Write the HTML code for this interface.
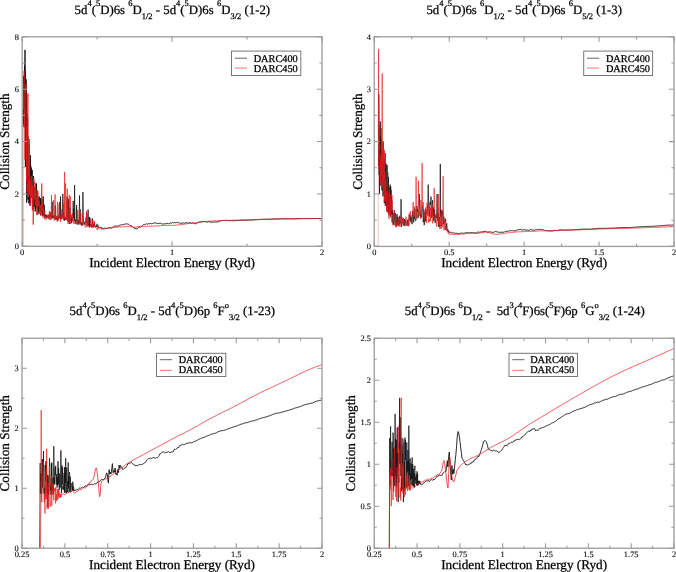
<!DOCTYPE html>
<html><head><meta charset="utf-8"><title>Collision strengths</title><style>
html,body{margin:0;padding:0;background:#fff;}
svg{display:block;will-change:transform;}
text{font-family:"Liberation Serif", serif;fill:#000;stroke:#000;stroke-width:0.25px;text-rendering:geometricPrecision;}
.tk{font-size:8.4px;stroke-width:0.1px;}
.al{font-size:13.2px;}
.lg{font-size:10.3px;}
.ti{font-size:12.8px;white-space:pre;}
.sm{font-size:8.5px;}
</style></head>
<body>
<svg width="676" height="572" viewBox="0 0 676 572">
<rect width="676" height="572" fill="#fff"/>
<text x="74.60" y="14.10" class="ti"><tspan y="14.10">5d</tspan><tspan y="6.30" class="sm">4</tspan><tspan y="14.10">(</tspan><tspan y="6.30" class="sm">5</tspan><tspan y="14.10">D)6s </tspan><tspan y="6.30" class="sm">6</tspan><tspan y="14.10">D</tspan><tspan y="19.10" class="sm">1/2</tspan><tspan y="14.10"> - 5d</tspan><tspan y="6.30" class="sm">4</tspan><tspan y="14.10">(</tspan><tspan y="6.30" class="sm">5</tspan><tspan y="14.10">D)6s </tspan><tspan y="6.30" class="sm">6</tspan><tspan y="14.10">D</tspan><tspan y="19.10" class="sm">3/2</tspan><tspan y="14.10"> (1-2)</tspan></text>
<text x="426.40" y="14.10" class="ti"><tspan y="14.10">5d</tspan><tspan y="6.30" class="sm">4</tspan><tspan y="14.10">(</tspan><tspan y="6.30" class="sm">5</tspan><tspan y="14.10">D)6s </tspan><tspan y="6.30" class="sm">6</tspan><tspan y="14.10">D</tspan><tspan y="19.10" class="sm">1/2</tspan><tspan y="14.10"> - 5d</tspan><tspan y="6.30" class="sm">4</tspan><tspan y="14.10">(</tspan><tspan y="6.30" class="sm">5</tspan><tspan y="14.10">D)6s </tspan><tspan y="6.30" class="sm">6</tspan><tspan y="14.10">D</tspan><tspan y="19.10" class="sm">5/2</tspan><tspan y="14.10"> (1-3)</tspan></text>
<text x="69.60" y="315.30" class="ti"><tspan y="315.30">5d</tspan><tspan y="307.50" class="sm">4</tspan><tspan y="315.30">(</tspan><tspan y="307.50" class="sm">5</tspan><tspan y="315.30">D)6s </tspan><tspan y="307.50" class="sm">6</tspan><tspan y="315.30">D</tspan><tspan y="320.30" class="sm">1/2</tspan><tspan y="315.30"> - 5d</tspan><tspan y="307.50" class="sm">4</tspan><tspan y="315.30">(</tspan><tspan y="307.50" class="sm">5</tspan><tspan y="315.30">D)6p </tspan><tspan y="307.50" class="sm">6</tspan><tspan y="315.30">F</tspan><tspan y="307.50" class="sm">o</tspan><tspan y="320.30" class="sm">3/2</tspan><tspan y="315.30"> (1-23)</tspan></text>
<text x="404.80" y="315.30" class="ti"><tspan y="315.30">5d</tspan><tspan y="307.50" class="sm">4</tspan><tspan y="315.30">(</tspan><tspan y="307.50" class="sm">5</tspan><tspan y="315.30">D)6s </tspan><tspan y="307.50" class="sm">6</tspan><tspan y="315.30">D</tspan><tspan y="320.30" class="sm">1/2</tspan><tspan y="315.30"> -  5d</tspan><tspan y="307.50" class="sm">3</tspan><tspan y="315.30">(</tspan><tspan y="307.50" class="sm">4</tspan><tspan y="315.30">F)6s(</tspan><tspan y="307.50" class="sm">5</tspan><tspan y="315.30">F)6p </tspan><tspan y="307.50" class="sm">6</tspan><tspan y="315.30">G</tspan><tspan y="307.50" class="sm">o</tspan><tspan y="320.30" class="sm">3/2</tspan><tspan y="315.30"> (1-24)</tspan></text>
<polyline points="23.4,82.9 23.5,75.9 23.7,107.2 23.8,124.3 24.0,97.1 24.1,127.2 24.3,88.8 24.4,121.5 24.5,115.5 24.7,65.7 24.8,87.7 25.0,49.9 25.1,115.1 25.3,70.7 25.4,167.1 25.6,79.6 25.7,142.6 25.8,161.4 26.0,131.6 26.1,79.3 26.3,160.3 26.4,88.8 26.6,150.7 26.7,202.6 26.9,115.5 27.0,114.1 27.1,169.7 27.3,143.0 27.4,183.0 27.6,116.7 27.7,183.3 27.9,136.5 28.0,199.6 28.1,186.2 28.3,176.3 28.4,193.8 28.6,187.6 28.7,193.1 28.9,203.3 29.0,184.3 29.2,175.9 29.3,181.4 29.4,144.4 29.6,202.7 29.7,171.3 29.9,190.4 30.0,205.7 30.2,165.8 30.3,188.7 30.4,155.3 30.6,170.0 30.7,165.5 30.9,184.2 31.0,195.9 31.2,167.7 31.3,193.7 31.5,171.6 31.6,170.5 31.7,197.7 31.9,181.9 32.0,178.4 32.2,170.1 32.3,195.2 32.5,204.6 32.6,203.0 32.7,199.1 32.9,208.6 33.0,187.7 33.2,209.2 33.3,197.3 33.5,176.0 33.6,200.0 33.8,206.1 33.9,200.3 34.0,205.1 34.2,206.9 34.3,205.4 34.5,204.3 34.6,199.9 34.8,205.4 34.9,194.3 35.0,186.7 35.2,211.5 35.3,200.9 35.5,196.3 35.6,201.0 35.8,195.4 35.9,208.7 36.1,186.6 36.2,184.8 36.3,191.0 36.5,183.5 36.6,191.5 36.8,197.0 36.9,191.1 37.1,202.5 37.2,208.2 37.4,201.3 37.5,203.3 37.6,210.2 37.8,198.9 37.9,197.5 38.1,209.5 38.2,211.5 38.4,202.4 38.5,205.6 38.6,199.1 38.8,198.9 38.9,214.1 39.1,211.4 39.2,196.5 39.4,201.8 39.5,199.1 39.7,200.5 39.8,204.3 39.9,210.1 40.1,210.9 40.2,204.4 40.4,204.6 40.5,198.0 40.7,204.9 40.8,206.4 40.9,215.2 41.1,204.9 41.2,200.5 41.4,205.8 41.5,208.3 41.7,211.6 41.8,199.4 42.0,212.5 42.1,204.3 42.2,209.7 42.4,208.7 42.5,216.0 42.7,205.0 42.8,211.1 43.0,203.1 43.1,203.0 43.2,196.5 43.4,208.1 43.5,215.2 43.7,215.0 43.8,213.0 44.0,215.4 44.1,204.7 44.3,212.4 44.4,208.8 44.5,215.8 44.7,210.9 44.4,216.2" fill="none" stroke="#111" stroke-width="0.9" stroke-opacity="1.0" stroke-linejoin="round"/>
<polyline points="44.4,216.2 44.7,217.6 45.0,215.2 45.2,216.0 45.5,216.2 45.8,214.3 46.1,217.7 46.4,215.5 46.7,216.5 47.0,216.0 47.3,216.2 47.6,218.0 47.8,216.3 48.1,214.7 48.4,215.1 48.7,218.8 49.0,218.6 49.3,216.9 49.6,214.5 49.9,216.4 50.1,214.5 50.4,216.7 50.7,212.3 51.0,217.4 51.3,218.4 51.6,216.1 51.9,215.8 52.2,201.8 52.4,218.4 52.7,215.5 53.0,216.0 53.3,217.7 53.6,217.9 53.9,216.3 54.2,215.1 54.5,219.6 54.7,219.2 55.0,218.3 55.3,205.5 55.6,206.8 55.9,220.0 56.2,219.1 56.5,218.3 56.8,216.4 57.0,217.2 57.3,220.4 57.6,220.3 57.9,218.1 58.2,215.8 58.5,215.6 58.8,218.7 59.1,215.7 59.3,215.5 59.6,202.2 59.9,203.8 60.2,218.9 60.5,196.5 60.8,217.7 61.1,219.2 61.4,217.2 61.7,216.4 61.9,215.7 62.2,218.6 62.5,214.5 62.8,193.9 63.1,204.8 63.4,215.5 63.7,212.9 64.0,219.8 64.2,216.1 64.5,220.7 64.8,220.0 65.1,217.3 65.4,220.0 65.7,217.6 66.0,218.9 66.3,219.5 66.5,216.1 66.8,216.3 67.1,196.7 67.4,215.1 67.7,217.1 68.0,220.5 68.3,221.8 68.6,199.2 68.8,220.3 69.1,221.8 69.4,224.0 69.7,213.5 70.0,207.8 70.3,220.3 70.6,220.6 70.9,217.7 71.1,217.5 71.4,223.2 71.7,217.9 72.0,220.3 72.3,219.7 72.6,220.5 72.9,220.6 73.2,200.9 73.4,218.0 73.7,208.6 74.0,214.8 74.3,220.5 74.6,185.0 74.9,220.9 75.2,221.5 75.5,219.6 75.7,223.1 76.0,224.2 76.3,220.4 76.6,205.1 76.9,218.8 77.2,221.8 77.5,219.5 77.8,224.6 78.1,220.0 78.3,221.1 78.6,223.5 78.9,224.5 79.2,224.2 79.5,195.5 79.8,223.1 80.1,209.2 80.4,220.1 80.6,223.2 80.9,224.4 81.2,222.2 81.5,225.5 81.8,223.5 82.1,223.9 82.4,223.6 82.7,225.4 82.9,192.1 83.2,215.6 83.5,222.1 83.8,221.2 84.1,224.2 84.4,222.9 84.7,224.5 85.0,225.1 85.2,222.1 85.5,222.9 85.8,222.1 86.1,217.4 86.4,222.5 86.7,213.5 87.0,225.4 87.3,225.6 87.5,224.8 87.8,221.2 88.1,209.6 88.4,224.7 88.7,223.9 89.0,226.3 89.3,216.9 89.6,226.5 89.8,217.7 90.1,224.5 90.4,224.6 90.7,225.5 91.0,225.9 91.3,224.4 91.6,226.1 91.9,226.8 92.2,226.2 92.4,218.6 92.7,224.8 93.0,226.7 93.3,224.5 93.6,226.5 93.9,225.0 94.2,222.4 94.5,222.6 94.7,226.3 95.0,227.0 95.3,226.4 95.6,227.2 95.9,226.8 96.2,225.5 96.5,226.8 96.8,226.9 97.0,223.8 97.3,225.5 97.6,227.0 97.9,227.2 98.2,226.5 98.5,226.4 98.8,226.8 99.1,227.4 99.3,227.5 99.6,227.4 99.9,226.9 100.2,227.0 100.5,227.2 100.8,227.6 101.1,227.5 101.4,227.5 101.6,227.7 101.6,228.6" fill="none" stroke="#111" stroke-width="0.75" stroke-opacity="1.0" stroke-linejoin="round"/>
<polyline points="101.6,228.6 102.3,228.1 103.0,228.3 103.7,228.4 104.3,228.1 105.0,228.4 105.7,228.3 106.3,228.4 107.0,228.4 107.7,228.2 108.3,228.3 109.0,227.7 109.7,227.8 110.4,227.9 111.0,228.3 111.7,227.7 112.4,227.7 113.0,227.2 113.7,226.8 114.4,226.3 115.0,226.1 115.7,226.0 116.4,226.1 117.1,226.1 117.7,226.2 118.4,225.9 119.1,225.7 119.7,225.2 120.4,225.1 121.1,224.7 121.7,224.9 122.4,224.7 123.1,224.7 123.7,224.6 124.4,224.3 125.1,224.1 125.8,223.9 126.4,223.9 127.1,224.0 127.8,224.0 128.4,224.2 129.1,224.7 129.8,225.4 130.4,225.6 131.1,225.7 131.8,225.8 132.5,226.6 133.1,227.3 133.8,227.9 134.5,228.4 135.1,228.5 135.8,228.5 136.5,228.7 137.1,228.8 137.8,228.5 138.5,227.6 139.2,226.9 139.8,227.1 140.5,227.2 141.2,226.7 141.8,226.2 142.5,225.5 143.2,224.7 143.8,224.6 144.5,224.6 145.2,224.3 145.9,224.1 146.5,223.8 147.2,224.2 147.9,224.1 148.5,223.6 149.2,223.7 149.9,223.7 150.5,223.5 151.2,223.7 151.9,223.9 152.5,223.5 153.2,223.3 153.9,223.0 154.6,222.8 155.2,222.9 155.9,223.0 156.6,223.4 157.2,223.5 157.9,223.3 158.6,223.2 159.2,223.8 159.9,223.1 160.6,223.3 161.3,223.6 161.9,223.9 162.6,224.1 163.3,223.8 163.9,224.2 164.6,223.7 165.3,223.8 165.9,223.8 166.6,223.5 167.3,223.4 168.0,223.3 168.6,223.9 169.3,223.6 170.0,223.2 170.6,223.0 171.3,223.1 172.0,223.1 172.6,222.5 173.3,222.7 174.0,222.8 174.7,222.6 175.3,222.8 176.0,222.7 176.7,222.6 177.3,222.3 178.0,222.8 178.7,222.8 179.3,222.9 180.0,223.0 180.7,223.4 181.3,223.4 182.0,223.3 182.7,222.8 183.4,223.0 184.0,223.2 184.7,223.4 185.4,222.8 186.0,222.7 186.7,222.7 187.4,223.0 188.0,223.0 188.7,223.0 189.4,222.8 190.1,222.8 190.7,222.9 191.4,223.2 192.1,223.1 192.7,222.8 193.4,223.0 194.1,223.3 194.7,223.7 195.4,223.8 196.1,223.9 196.8,223.2 197.4,222.8 198.1,222.5 198.8,222.3 199.4,222.2 200.1,222.0 200.8,221.9 201.4,221.8 202.1,221.5 202.8,221.3 203.5,221.6 204.1,221.5 204.8,221.2 205.5,221.9 206.1,222.0 206.8,222.0 207.5,222.1 208.1,221.7 208.8,221.7 209.5,221.7 210.1,221.9 210.8,222.2 211.5,222.4 212.2,222.0 212.8,221.9 213.5,222.2 214.2,222.0 214.8,221.9 215.5,222.1 216.2,222.1 216.8,222.1 217.5,221.9 218.2,221.8 218.9,221.7 219.5,221.3 220.2,221.0 220.9,220.7 221.5,220.6 222.2,220.5 222.9,220.7 223.5,220.4 224.2,220.5 224.9,220.3 225.6,220.4 226.2,220.3 226.9,220.4 227.6,220.5 228.2,220.5 228.9,220.6 229.6,220.7 230.2,220.8 230.9,220.7 231.6,220.6 232.3,220.8 232.9,220.7 233.6,220.7 234.3,220.7 234.9,220.8 235.6,220.7 236.3,220.5 236.9,220.5 237.6,220.5 238.3,220.5 238.9,220.4 239.6,220.4 240.3,220.4 241.0,220.3 241.6,220.3 242.3,220.3 243.0,220.2 243.6,220.2 244.3,220.2 245.0,220.2 245.6,220.2 246.3,220.2 247.0,220.1 247.7,220.1 248.3,220.0 249.0,220.0 249.7,220.0 250.3,220.0 251.0,220.0 251.7,220.0 252.3,220.0 253.0,220.0 253.7,219.9 254.4,219.9 255.0,219.8 255.7,219.7 256.4,219.7 257.0,219.8 257.7,219.7 258.4,219.6 259.0,219.6 259.7,219.6 260.4,219.5 261.1,219.4 261.7,219.4 262.4,219.4 263.1,219.4 263.7,219.4 264.4,219.4 265.1,219.3 265.7,219.3 266.4,219.3 267.1,219.3 267.7,219.3 268.4,219.3 269.1,219.3 269.8,219.3 270.4,219.2 271.1,219.3 271.8,219.2 272.4,219.2 273.1,219.1 273.8,219.1 274.4,219.0 275.1,219.0 275.8,219.0 276.5,219.0 277.1,219.0 277.8,219.0 278.5,218.9 279.1,218.9 279.8,218.9 280.5,218.8 281.1,218.9 281.8,218.9 282.5,218.9 283.2,218.9 283.8,218.9 284.5,218.8 285.2,218.8 285.8,218.8 286.5,218.8 287.2,218.8 287.8,218.8 288.5,218.7 289.2,218.8 289.9,218.8 290.5,218.8 291.2,218.8 291.9,218.8 292.5,218.8 293.2,218.9 293.9,218.9 294.5,218.8 295.2,218.9 295.9,218.9 296.5,218.8 297.2,218.7 297.9,218.7 298.6,218.6 299.2,218.7 299.9,218.7 300.6,218.6 301.2,218.6 301.9,218.6 302.6,218.6 303.2,218.5 303.9,218.5 304.6,218.5 305.3,218.5 305.9,218.6 306.6,218.6 307.3,218.6 307.9,218.6 308.6,218.5 309.3,218.5 309.9,218.5 310.6,218.5 311.3,218.5 312.0,218.6 312.6,218.5 313.3,218.5 314.0,218.5 314.6,218.5 315.3,218.5 316.0,218.5 316.6,218.5 317.3,218.5 318.0,218.5 318.7,218.5 319.3,218.5 320.0,218.5 320.7,218.5 321.3,218.5 322.0,218.5" fill="none" stroke="#111" stroke-width="0.9" stroke-opacity="1.0" stroke-linejoin="round"/>
<polyline points="23.4,246.3 23.5,96.8" fill="none" stroke="#e8191b" stroke-width="0.9" stroke-opacity="0.3"/><polyline points="23.5,96.8 23.8,109.1 24.1,70.8 24.4,126.1 24.7,109.4 25.0,159.7 25.3,88.8 25.6,93.5 25.9,83.9 26.2,105.4 26.5,181.6 26.8,126.2 27.1,191.6 27.4,130.5 27.7,94.3 28.0,93.4 28.2,141.1 28.5,196.8 28.8,180.0 29.1,192.1 29.4,139.1 29.7,194.5 30.0,179.8 30.3,191.4 30.6,205.5 30.9,195.3 31.2,175.9 31.5,196.2 31.8,184.6 32.1,190.6 32.4,210.4 32.6,185.8 32.9,189.3 33.2,224.6 33.5,209.9 33.8,178.2 34.1,184.0 34.4,183.3 34.7,181.7 35.0,196.3 35.3,205.5 35.6,183.5 35.9,195.6 36.2,198.6 36.5,198.7 36.8,215.2 37.1,190.2 37.3,207.9 37.6,214.9 37.9,191.2 38.2,199.7 38.5,206.0 38.8,200.1 39.1,199.6 39.4,203.7 39.7,211.3 40.0,212.2 40.3,205.0 40.6,215.6 40.9,214.9 41.2,215.2 41.5,210.9 41.7,183.5 42.0,210.8 42.3,206.0 42.6,202.6 42.9,217.5 43.2,216.9 43.5,207.8 43.8,214.7 44.1,210.2 44.4,218.2 44.7,217.7 44.4,218.9" fill="none" stroke="#e8191b" stroke-width="0.9" stroke-opacity="0.85" stroke-linejoin="round"/>
<polyline points="44.4,218.9 44.7,218.6 45.1,219.2 45.4,217.2 45.7,218.1 46.1,219.6 46.4,218.8 46.7,219.1 47.1,215.2 47.4,218.3 47.8,218.0 48.1,214.5 48.4,217.6 48.8,215.4 49.1,217.5 49.4,211.1 49.8,219.8 50.1,217.7 50.4,219.8 50.8,211.8 51.1,219.6 51.5,195.2 51.8,215.9 52.1,215.0 52.5,216.8 52.8,217.6 53.1,215.7 53.5,200.2 53.8,217.1 54.2,220.1 54.5,220.3 54.8,199.8 55.2,194.4 55.5,218.7 55.8,219.0 56.2,216.4 56.5,216.4 56.8,216.2 57.2,221.7 57.5,201.8 57.9,217.5 58.2,216.1 58.5,220.5 58.9,207.3 59.2,203.4 59.5,217.8 59.9,216.4 60.2,217.7 60.6,222.1 60.9,220.0 61.2,209.4 61.6,219.0 61.9,213.2 62.2,218.0 62.6,216.4 62.9,218.4 63.2,217.4 63.6,203.6 63.9,220.5 64.3,217.4 64.6,171.9 64.9,219.7 65.3,194.2 65.6,183.5 65.9,203.1 66.3,218.1 66.6,201.0 67.0,220.6 67.3,188.7 67.6,221.9 68.0,223.9 68.3,222.8 68.6,220.1 69.0,197.6 69.3,195.2 69.6,223.5 70.0,218.6 70.3,196.5 70.7,223.8 71.0,215.7 71.3,218.0 71.7,215.0 72.0,219.3 72.3,213.1 72.7,220.9 73.0,222.4 73.4,220.5 73.7,223.6 74.0,224.0 74.4,223.2 74.7,220.0 75.0,220.3 75.4,223.6 75.7,223.8 76.0,222.0 76.4,222.0 76.7,221.8 77.1,221.8 77.4,222.7 77.7,210.0 78.1,222.4 78.4,222.3 78.7,222.4 79.1,213.7 79.4,207.7 79.8,223.1 80.1,212.1 80.4,223.5 80.8,223.7 81.1,224.7 81.4,225.7 81.8,224.7 82.1,213.3 82.4,215.3 82.8,224.6 83.1,224.3 83.5,219.5 83.8,223.8 84.1,223.9 84.5,224.1 84.8,225.2 85.1,226.6 85.5,227.4 85.8,226.5 86.2,225.8 86.5,210.9 86.8,227.2 87.2,224.4 87.5,225.3 87.8,219.7 88.2,222.9 88.5,226.5 88.8,226.1 89.2,226.7 89.5,227.9 89.9,226.6 90.2,226.1 90.5,227.1 90.9,218.6 91.2,225.6 91.5,228.1 91.9,227.1 92.2,221.1 92.6,227.3 92.9,220.1 93.2,227.6 93.6,226.3 93.9,227.6 94.2,221.1 94.6,223.4 94.9,226.7 95.2,226.8 95.6,227.4 95.9,228.0 96.3,227.9 96.6,228.5 96.9,228.2 97.3,230.1 97.6,228.4 97.9,224.7 98.3,225.2 98.6,228.5 99.0,227.8 99.3,227.8 99.6,228.5 100.0,228.8 100.3,228.4 100.6,227.3 101.0,228.7 101.3,228.5 101.6,228.9 101.6,229.4" fill="none" stroke="#e8191b" stroke-width="0.75" stroke-opacity="0.85" stroke-linejoin="round"/>
<polyline points="101.6,229.4 102.3,229.2 103.0,229.2 103.7,229.2 104.3,229.1 105.0,228.7 105.7,228.6 106.3,228.5 107.0,228.3 107.7,228.1 108.3,227.8 109.0,227.7 109.7,227.9 110.4,228.0 111.0,228.0 111.7,227.7 112.4,227.3 113.0,227.1 113.7,227.4 114.4,227.3 115.0,227.0 115.7,227.2 116.4,227.2 117.1,227.2 117.7,227.2 118.4,227.0 119.1,226.8 119.7,226.7 120.4,227.0 121.1,227.2 121.7,227.0 122.4,226.8 123.1,226.8 123.7,227.0 124.4,226.8 125.1,226.6 125.8,226.6 126.4,226.6 127.1,226.4 127.8,226.4 128.4,226.5 129.1,226.5 129.8,226.6 130.4,226.7 131.1,226.9 131.8,227.0 132.5,227.0 133.1,227.0 133.8,227.3 134.5,227.2 135.1,227.2 135.8,227.1 136.5,227.1 137.1,226.9 137.8,226.7 138.5,226.6 139.2,226.5 139.8,226.4 140.5,226.3 141.2,226.4 141.8,226.4 142.5,226.4 143.2,226.3 143.8,226.4 144.5,226.5 145.2,226.4 145.9,226.3 146.5,226.4 147.2,226.2 147.9,226.2 148.5,226.2 149.2,226.2 149.9,226.2 150.5,226.2 151.2,226.2 151.9,226.3 152.5,226.2 153.2,226.1 153.9,226.1 154.6,226.0 155.2,226.0 155.9,225.9 156.6,225.9 157.2,225.9 157.9,225.8 158.6,225.8 159.2,225.8 159.9,225.7 160.6,225.7 161.3,225.6 161.9,225.6 162.6,225.5 163.3,225.5 163.9,225.4 164.6,225.4 165.3,225.4 165.9,225.4 166.6,225.4 167.3,225.4 168.0,225.4 168.6,225.4 169.3,225.4 170.0,225.4 170.6,225.4 171.3,225.4 172.0,225.4 172.6,225.3 173.3,225.3 174.0,225.3 174.7,225.3 175.3,225.2 176.0,225.2 176.7,225.1 177.3,225.0 178.0,225.0 178.7,224.9 179.3,224.8 180.0,224.7 180.7,224.6 181.3,224.5 182.0,224.4 182.7,224.4 183.4,224.3 184.0,224.2 184.7,224.1 185.4,224.0 186.0,223.9 186.7,223.8 187.4,223.7 188.0,223.7 188.7,223.6 189.4,223.5 190.1,223.4 190.7,223.3 191.4,223.3 192.1,223.2 192.7,223.1 193.4,223.0 194.1,222.9 194.7,222.8 195.4,222.8 196.1,222.7 196.8,222.6 197.4,222.5 198.1,222.4 198.8,222.3 199.4,222.3 200.1,222.2 200.8,222.1 201.4,222.0 202.1,221.9 202.8,221.9 203.5,221.8 204.1,221.7 204.8,221.6 205.5,221.5 206.1,221.5 206.8,221.4 207.5,221.3 208.1,221.3 208.8,221.2 209.5,221.2 210.1,221.1 210.8,221.1 211.5,221.1 212.2,221.0 212.8,221.0 213.5,220.9 214.2,220.9 214.8,220.9 215.5,220.8 216.2,220.8 216.8,220.8 217.5,220.8 218.2,220.7 218.9,220.7 219.5,220.7 220.2,220.6 220.9,220.6 221.5,220.6 222.2,220.6 222.9,220.6 223.5,220.5 224.2,220.5 224.9,220.5 225.6,220.5 226.2,220.4 226.9,220.4 227.6,220.4 228.2,220.4 228.9,220.4 229.6,220.3 230.2,220.3 230.9,220.3 231.6,220.3 232.3,220.3 232.9,220.2 233.6,220.2 234.3,220.2 234.9,220.2 235.6,220.2 236.3,220.2 236.9,220.1 237.6,220.1 238.3,220.1 238.9,220.1 239.6,220.1 240.3,220.0 241.0,220.0 241.6,220.0 242.3,220.0 243.0,220.0 243.6,220.0 244.3,219.9 245.0,219.9 245.6,219.9 246.3,219.9 247.0,219.9 247.7,219.8 248.3,219.8 249.0,219.8 249.7,219.8 250.3,219.7 251.0,219.7 251.7,219.7 252.3,219.7 253.0,219.7 253.7,219.6 254.4,219.6 255.0,219.6 255.7,219.6 256.4,219.5 257.0,219.5 257.7,219.5 258.4,219.5 259.0,219.5 259.7,219.4 260.4,219.4 261.1,219.4 261.7,219.4 262.4,219.3 263.1,219.3 263.7,219.3 264.4,219.3 265.1,219.3 265.7,219.2 266.4,219.2 267.1,219.2 267.7,219.2 268.4,219.2 269.1,219.1 269.8,219.1 270.4,219.1 271.1,219.1 271.8,219.1 272.4,219.0 273.1,219.0 273.8,219.0 274.4,219.0 275.1,219.0 275.8,219.0 276.5,218.9 277.1,218.9 277.8,218.9 278.5,218.9 279.1,218.9 279.8,218.9 280.5,218.9 281.1,218.8 281.8,218.8 282.5,218.8 283.2,218.8 283.8,218.8 284.5,218.8 285.2,218.8 285.8,218.8 286.5,218.8 287.2,218.8 287.8,218.8 288.5,218.8 289.2,218.8 289.9,218.7 290.5,218.7 291.2,218.7 291.9,218.7 292.5,218.7 293.2,218.7 293.9,218.7 294.5,218.7 295.2,218.7 295.9,218.7 296.5,218.7 297.2,218.7 297.9,218.7 298.6,218.7 299.2,218.7 299.9,218.6 300.6,218.6 301.2,218.6 301.9,218.6 302.6,218.6 303.2,218.6 303.9,218.6 304.6,218.6 305.3,218.6 305.9,218.6 306.6,218.6 307.3,218.6 307.9,218.6 308.6,218.6 309.3,218.6 309.9,218.6 310.6,218.6 311.3,218.6 312.0,218.6 312.6,218.6 313.3,218.6 314.0,218.6 314.6,218.6 315.3,218.6 316.0,218.6 316.6,218.5 317.3,218.5 318.0,218.5 318.7,218.5 319.3,218.5 320.0,218.5 320.7,218.5 321.3,218.5 322.0,218.5" fill="none" stroke="#e8191b" stroke-width="0.9" stroke-opacity="0.85" stroke-linejoin="round"/>
<polyline points="378.4,156.7 378.6,165.7 378.8,94.4 379.0,153.3 379.1,174.9 379.3,169.3 379.5,194.0 379.6,128.2 379.8,180.0 380.0,175.7 380.1,134.3 380.3,121.4 380.5,170.6 380.7,136.2 380.8,185.6 381.0,139.0 381.2,155.8 381.3,140.6 381.5,180.7 381.7,172.4 381.9,175.7 382.0,190.5 382.2,155.5 382.4,165.4 382.5,169.9 382.7,162.1 382.9,164.6 383.0,196.4 383.2,141.6 383.4,180.6 383.6,193.3 383.7,160.8 383.9,165.1 384.1,159.3 384.2,202.5 384.4,200.5 384.6,194.6 384.7,178.1 384.9,203.2 385.1,153.1 385.3,205.9 385.4,175.5 385.6,167.6 385.8,180.1 385.9,192.6 386.1,163.7 386.3,198.6 386.4,204.3 386.6,186.1 386.8,207.8 387.0,209.8 387.1,165.1 387.3,193.6 387.5,206.2 387.6,182.9 387.8,172.6 388.0,212.7 388.1,200.5 388.3,204.7 388.5,176.9 388.7,211.6 388.8,208.6 389.0,215.4 389.2,195.0 389.3,212.5 389.5,193.7 389.7,212.0 389.9,187.3 390.0,194.0 390.2,184.6 390.4,207.3 390.5,216.8 390.7,186.5 390.9,200.7 391.0,189.9 391.2,207.6 391.4,197.5 391.6,208.9 391.7,214.4 391.9,200.7 392.1,218.3 392.2,222.5 392.2,209.9 392.6,214.8 393.0,213.3 393.4,224.6 393.9,216.5 394.3,210.3 394.7,221.2 395.1,225.6 395.5,213.2 395.9,218.6 396.3,225.3 396.7,219.2 397.1,214.2 397.5,225.3 397.9,216.8 398.3,219.3 398.7,225.3 399.1,225.7 399.5,215.8 399.9,224.1 400.3,223.0 400.7,220.4 401.1,199.2 401.5,227.0 401.9,225.1 402.3,222.8 402.7,219.2 403.1,221.2 403.5,223.3 403.9,225.7 404.4,219.0 404.8,225.7 405.2,219.7 405.6,222.4 406.0,221.7 406.4,223.5 406.8,225.2 407.2,225.4 407.6,219.9 408.0,224.0 408.4,226.0 408.8,224.5 409.2,215.0 409.6,217.8 410.0,219.3 410.4,221.3 410.8,215.4 411.2,222.5 411.6,217.5 412.0,224.2 412.4,216.7 412.8,211.0 413.2,214.8 413.6,222.4 414.0,215.5 414.5,218.8 414.9,208.7 415.3,221.1 415.7,220.7 416.1,219.6 416.5,216.1 416.9,206.1 417.3,211.5 417.7,209.3 418.1,217.9 418.5,216.2 418.9,213.2 419.3,194.0 419.7,206.8 420.1,210.2 420.5,215.4 420.9,217.4 421.3,214.1 421.7,217.4 422.1,208.3 422.5,205.5 422.9,208.0 423.3,222.2 423.7,209.2 424.1,225.2 424.5,224.4 425.0,212.4 425.4,221.4 425.8,209.2 426.2,212.7 426.6,213.7 427.0,214.3 427.4,206.4 427.8,207.9 428.2,184.6 428.6,202.9 429.0,214.8 429.4,216.4 429.8,203.6 430.2,201.8 430.6,204.8 431.0,196.6 431.4,217.6 431.8,214.5 432.2,204.2 432.6,200.2 433.0,216.7 433.4,207.4 433.8,221.1 434.2,209.1 434.6,218.2 435.1,223.1 435.5,222.3 435.9,215.6 436.3,218.0 436.7,213.9 437.1,194.0 437.5,216.5 437.9,221.2 438.3,213.2 438.7,227.0 439.1,217.5 439.5,217.7 439.9,227.1 440.3,164.1 440.7,217.1 441.1,209.8 441.5,225.8 441.9,221.8 442.3,212.4 442.7,210.7 443.1,217.0 443.5,223.9 443.9,216.8 444.3,223.1 444.7,222.5 445.1,221.2 445.6,218.7 446.0,229.9 446.4,224.3 446.8,223.3 447.2,228.9 447.6,230.3 448.0,229.5 448.4,231.9 448.8,231.0 449.2,232.6 449.2,232.2" fill="none" stroke="#111" stroke-width="0.75" stroke-opacity="1.0" stroke-linejoin="round"/>
<polyline points="449.2,232.2 449.9,232.3 450.5,232.2 451.2,232.7 451.9,232.8 452.5,232.9 453.2,232.8 453.9,233.1 454.5,233.0 455.2,233.4 455.9,233.3 456.5,233.1 457.2,233.5 457.9,233.5 458.6,233.6 459.2,233.8 459.9,233.3 460.6,233.3 461.2,233.1 461.9,233.2 462.6,233.1 463.2,233.3 463.9,233.3 464.6,233.1 465.2,233.0 465.9,232.7 466.6,232.8 467.3,232.5 467.9,232.5 468.6,232.8 469.3,232.8 469.9,232.9 470.6,232.7 471.3,232.5 471.9,232.6 472.6,232.7 473.3,232.9 473.9,233.0 474.6,233.0 475.3,233.1 476.0,233.1 476.6,232.8 477.3,232.2 478.0,232.4 478.6,232.1 479.3,232.2 480.0,232.5 480.6,232.0 481.3,231.9 482.0,232.0 482.6,231.8 483.3,231.6 484.0,231.2 484.6,231.2 485.3,231.4 486.0,231.7 486.7,231.8 487.3,232.4 488.0,232.2 488.7,231.9 489.3,232.0 490.0,231.8 490.7,231.9 491.3,232.0 492.0,232.5 492.7,232.5 493.3,232.2 494.0,232.1 494.7,231.9 495.4,231.5 496.0,231.3 496.7,231.8 497.4,231.9 498.0,232.0 498.7,232.3 499.4,232.2 500.0,232.4 500.7,232.3 501.4,232.2 502.0,232.4 502.7,232.2 503.4,232.2 504.1,232.3 504.7,231.7 505.4,231.4 506.1,231.5 506.7,231.6 507.4,231.2 508.1,231.2 508.7,231.2 509.4,230.8 510.1,230.9 510.7,230.8 511.4,230.6 512.1,230.9 512.8,230.5 513.4,231.0 514.1,230.8 514.8,230.7 515.4,230.7 516.1,230.7 516.8,230.1 517.4,229.9 518.1,229.8 518.8,229.7 519.4,229.5 520.1,229.5 520.8,229.3 521.4,229.9 522.1,230.1 522.8,230.0 523.5,229.7 524.1,229.7 524.8,229.8 525.5,230.0 526.1,230.0 526.8,230.2 527.5,230.1 528.1,230.2 528.8,230.2 529.5,230.3 530.1,229.8 530.8,229.6 531.5,229.8 532.2,230.0 532.8,230.0 533.5,230.1 534.2,230.4 534.8,230.1 535.5,229.7 536.2,229.6 536.8,229.7 537.5,229.7 538.2,229.6 538.8,229.4 539.5,229.3 540.2,229.4 540.9,229.5 541.5,229.9 542.2,229.4 542.9,229.5 543.5,229.8 544.2,230.2 544.9,230.5 545.5,230.7 546.2,230.5 546.9,230.6 547.5,230.8 548.2,230.9 548.9,230.9 549.6,231.0 550.2,230.6 550.9,231.0 551.6,231.0 552.2,230.9 552.9,230.7 553.6,230.7 554.2,230.4 554.9,230.3 555.6,230.5 556.2,230.5 556.9,230.3 557.6,230.5 558.2,230.0 558.9,230.1 559.6,230.0 560.3,229.8 560.9,229.9 561.6,229.9 562.3,229.9 562.9,229.9 563.6,230.2 564.3,230.0 564.9,230.0 565.6,230.1 566.3,230.0 566.9,230.1 567.6,230.0 568.3,230.0 569.0,230.0 569.6,230.0 570.3,230.0 571.0,230.0 571.6,230.0 572.3,229.9 573.0,229.8 573.6,229.8 574.3,229.7 575.0,229.6 575.6,229.6 576.3,229.6 577.0,229.6 577.7,229.5 578.3,229.4 579.0,229.4 579.7,229.4 580.3,229.3 581.0,229.2 581.7,229.2 582.3,229.1 583.0,229.1 583.7,229.2 584.3,229.1 585.0,229.2 585.7,229.1 586.3,229.1 587.0,229.1 587.7,229.1 588.4,229.1 589.0,229.1 589.7,229.2 590.4,229.1 591.0,229.2 591.7,229.1 592.4,228.9 593.0,228.9 593.7,228.8 594.4,228.8 595.0,228.7 595.7,228.6 596.4,228.6 597.1,228.5 597.7,228.4 598.4,228.4 599.1,228.3 599.7,228.3 600.4,228.3 601.1,228.4 601.7,228.4 602.4,228.3 603.1,228.3 603.7,228.3 604.4,228.3 605.1,228.3 605.8,228.3 606.4,228.3 607.1,228.3 607.8,228.3 608.4,228.3 609.1,228.3 609.8,228.2 610.4,228.1 611.1,228.1 611.8,228.1 612.4,228.1 613.1,228.1 613.8,228.1 614.5,228.1 615.1,228.1 615.8,227.9 616.5,227.9 617.1,227.8 617.8,227.8 618.5,227.7 619.1,227.7 619.8,227.7 620.5,227.7 621.1,227.6 621.8,227.6 622.5,227.6 623.1,227.5 623.8,227.5 624.5,227.5 625.2,227.5 625.8,227.5 626.5,227.5 627.2,227.6 627.8,227.6 628.5,227.5 629.2,227.5 629.8,227.5 630.5,227.5 631.2,227.5 631.8,227.3 632.5,227.3 633.2,227.3 633.9,227.3 634.5,227.2 635.2,227.2 635.9,227.1 636.5,227.0 637.2,227.0 637.9,227.0 638.5,226.9 639.2,226.9 639.9,226.8 640.5,226.8 641.2,226.8 641.9,226.7 642.6,226.6 643.2,226.6 643.9,226.6 644.6,226.5 645.2,226.5 645.9,226.4 646.6,226.4 647.2,226.4 647.9,226.4 648.6,226.4 649.2,226.5 649.9,226.4 650.6,226.4 651.3,226.4 651.9,226.4 652.6,226.3 653.3,226.1 653.9,226.1 654.6,226.2 655.3,226.2 655.9,226.1 656.6,226.0 657.3,226.0 657.9,225.9 658.6,225.9 659.3,225.8 659.9,225.8 660.6,225.7 661.3,225.7 662.0,225.7 662.6,225.6 663.3,225.5 664.0,225.4 664.6,225.4 665.3,225.3 666.0,225.3 666.6,225.2 667.3,225.2 668.0,225.1 668.6,225.1 669.3,225.2 670.0,225.1 670.7,225.1 671.3,225.2 672.0,225.1 672.7,225.0 673.3,224.9 674.0,224.9" fill="none" stroke="#111" stroke-width="0.9" stroke-opacity="1.0" stroke-linejoin="round"/>
<polyline points="378.2,246.4 378.3,137.6" fill="none" stroke="#e8191b" stroke-width="0.75" stroke-opacity="0.35"/><polyline points="378.3,137.6 378.6,48.9 378.8,169.1 379.1,130.6 379.3,124.8 379.6,149.3 379.8,144.8 380.1,180.4 380.4,155.5 380.6,183.5 380.9,162.8 381.1,176.2 381.4,128.2 381.7,166.5 381.9,188.5 382.2,73.5 382.4,168.6 382.7,147.5 382.9,185.2 383.2,141.6 383.5,192.9 383.7,148.7 384.0,164.3 384.2,150.6 384.5,150.6 384.7,202.0 385.0,171.4 385.3,200.2 385.5,179.8 385.8,201.3 386.0,191.4 386.3,196.3 386.6,211.8 386.8,185.4 387.1,183.8 387.3,172.9 387.6,184.6 387.8,211.4 388.1,192.6 388.4,201.3 388.6,210.3 388.9,217.1 389.1,218.9 389.4,189.9 389.7,212.2 389.9,214.0 390.2,194.2 390.4,198.5 390.7,217.2 390.9,198.8 391.2,202.2 391.5,210.7 391.7,208.8 392.0,195.1 392.2,209.0 392.2,220.0 392.6,223.4 393.0,225.2 393.4,216.1 393.9,220.3 394.3,210.7 394.7,214.3 395.1,215.2 395.5,227.0 395.9,220.8 396.3,220.3 396.7,227.3 397.1,222.4 397.5,224.4 397.9,225.7 398.3,217.7 398.7,223.2 399.1,226.8 399.5,223.9 399.9,216.0 400.3,223.7 400.7,225.9 401.1,226.9 401.5,222.1 401.9,219.9 402.3,223.3 402.7,217.3 403.1,221.9 403.5,218.0 403.9,221.3 404.4,220.9 404.8,223.1 405.2,226.2 405.6,219.1 406.0,216.7 406.4,218.6 406.8,222.6 407.2,226.1 407.6,225.1 408.0,220.3 408.4,218.5 408.8,226.2 409.2,213.2 409.6,216.8 410.0,216.4 410.4,211.2 410.8,217.6 411.2,219.5 411.6,223.2 412.0,215.6 412.4,214.9 412.8,209.3 413.2,201.9 413.6,217.1 414.0,209.5 414.5,206.5 414.9,216.7 415.3,212.6 415.7,212.3 416.1,176.7 416.5,213.9 416.9,218.1 417.3,218.4 417.7,216.1 418.1,210.0 418.5,180.9 418.9,204.1 419.3,216.1 419.7,211.4 420.1,213.0 420.5,218.9 420.9,200.1 421.3,216.6 421.7,208.5 422.1,163.1 422.5,206.8 422.9,205.3 423.3,202.3 423.7,218.4 424.1,210.4 424.5,218.9 425.0,219.4 425.4,207.5 425.8,208.8 426.2,209.3 426.6,222.9 427.0,202.8 427.4,212.0 427.8,215.9 428.2,204.3 428.6,222.5 429.0,219.0 429.4,221.7 429.8,218.2 430.2,207.5 430.6,221.1 431.0,208.1 431.4,212.1 431.8,218.1 432.2,206.2 432.6,223.4 433.0,220.8 433.4,215.9 433.8,218.6 434.2,188.2 434.6,204.6 435.1,216.5 435.5,214.3 435.9,219.4 436.3,224.8 436.7,226.6 437.1,213.4 437.5,214.5 437.9,207.7 438.3,225.4 438.7,194.0 439.1,223.3 439.5,219.0 439.9,229.1 440.3,213.7 440.7,215.4 441.1,228.8 441.5,216.2 441.9,224.8 442.3,223.0 442.7,227.5 443.1,176.2 443.5,220.5 443.9,230.3 444.3,229.1 444.7,220.5 445.1,229.9 445.6,226.9 446.0,225.7 446.4,230.9 446.8,229.2 447.2,230.5 447.6,232.4 448.0,230.5 448.4,233.4 448.8,232.8 449.2,234.2 449.2,234.1" fill="none" stroke="#e8191b" stroke-width="0.75" stroke-opacity="0.85" stroke-linejoin="round"/>
<polyline points="449.2,234.1 449.9,234.2 450.5,234.2 451.2,234.3 451.9,234.3 452.5,234.2 453.2,234.6 453.9,234.6 454.5,234.5 455.2,234.4 455.9,234.4 456.5,234.6 457.2,234.6 457.9,234.6 458.6,234.6 459.2,234.5 459.9,234.2 460.6,234.1 461.2,234.0 461.9,233.8 462.6,233.8 463.2,233.9 463.9,234.0 464.6,233.9 465.2,233.6 465.9,233.7 466.6,233.6 467.3,233.5 467.9,233.3 468.6,233.3 469.3,233.2 469.9,233.5 470.6,233.4 471.3,233.3 471.9,233.2 472.6,233.1 473.3,233.0 473.9,233.1 474.6,233.1 475.3,233.1 476.0,233.1 476.6,233.4 477.3,233.4 478.0,233.5 478.6,233.3 479.3,233.0 480.0,232.9 480.6,232.8 481.3,232.8 482.0,232.8 482.6,232.8 483.3,232.7 484.0,232.4 484.6,232.3 485.3,232.1 486.0,232.0 486.7,231.9 487.3,232.0 488.0,232.2 488.7,232.4 489.3,232.8 490.0,232.9 490.7,233.1 491.3,233.4 492.0,233.5 492.7,233.9 493.3,234.0 494.0,234.2 494.7,234.2 495.4,234.2 496.0,234.3 496.7,234.3 497.4,234.2 498.0,234.2 498.7,234.2 499.4,234.1 500.0,234.0 500.7,233.8 501.4,233.9 502.0,233.8 502.7,233.6 503.4,233.4 504.1,233.3 504.7,233.2 505.4,233.3 506.1,233.1 506.7,233.0 507.4,232.9 508.1,232.7 508.7,232.7 509.4,232.8 510.1,232.5 510.7,232.5 511.4,232.5 512.1,232.5 512.8,232.4 513.4,232.3 514.1,232.2 514.8,232.1 515.4,232.0 516.1,231.9 516.8,232.0 517.4,231.8 518.1,231.8 518.8,231.9 519.4,231.8 520.1,231.8 520.8,231.8 521.4,231.8 522.1,231.7 522.8,231.6 523.5,231.6 524.1,231.6 524.8,231.6 525.5,231.4 526.1,231.4 526.8,231.4 527.5,231.3 528.1,231.4 528.8,231.4 529.5,231.3 530.1,231.4 530.8,231.4 531.5,231.4 532.2,231.4 532.8,231.4 533.5,231.3 534.2,231.3 534.8,231.3 535.5,231.2 536.2,231.3 536.8,231.2 537.5,231.0 538.2,231.1 538.8,231.0 539.5,230.8 540.2,230.8 540.9,230.7 541.5,230.8 542.2,230.8 542.9,230.9 543.5,230.8 544.2,230.8 544.9,230.7 545.5,230.8 546.2,230.8 546.9,230.8 547.5,230.8 548.2,230.8 548.9,230.8 549.6,230.8 550.2,230.8 550.9,230.9 551.6,230.9 552.2,230.8 552.9,230.8 553.6,230.8 554.2,230.7 554.9,230.7 555.6,230.6 556.2,230.6 556.9,230.6 557.6,230.6 558.2,230.7 558.9,230.5 559.6,230.4 560.3,230.3 560.9,230.4 561.6,230.4 562.3,230.2 562.9,230.3 563.6,230.2 564.3,230.3 564.9,230.2 565.6,230.1 566.3,230.2 566.9,230.1 567.6,230.2 568.3,230.1 569.0,230.2 569.6,230.0 570.3,229.9 571.0,230.0 571.6,230.0 572.3,230.0 573.0,230.0 573.6,230.0 574.3,229.9 575.0,229.9 575.6,229.9 576.3,229.9 577.0,229.8 577.7,229.8 578.3,229.9 579.0,230.0 579.7,229.9 580.3,229.9 581.0,229.7 581.7,229.8 582.3,229.7 583.0,229.7 583.7,229.6 584.3,229.7 585.0,229.6 585.7,229.6 586.3,229.6 587.0,229.6 587.7,229.5 588.4,229.5 589.0,229.5 589.7,229.5 590.4,229.4 591.0,229.4 591.7,229.4 592.4,229.3 593.0,229.3 593.7,229.3 594.4,229.3 595.0,229.2 595.7,229.3 596.4,229.2 597.1,229.2 597.7,229.2 598.4,229.1 599.1,229.0 599.7,229.0 600.4,229.0 601.1,229.0 601.7,229.0 602.4,229.0 603.1,229.0 603.7,228.9 604.4,228.9 605.1,228.9 605.8,228.8 606.4,228.7 607.1,228.7 607.8,228.8 608.4,228.8 609.1,228.7 609.8,228.7 610.4,228.7 611.1,228.7 611.8,228.6 612.4,228.6 613.1,228.6 613.8,228.6 614.5,228.5 615.1,228.6 615.8,228.6 616.5,228.5 617.1,228.5 617.8,228.5 618.5,228.5 619.1,228.5 619.8,228.5 620.5,228.5 621.1,228.5 621.8,228.6 622.5,228.5 623.1,228.6 623.8,228.5 624.5,228.5 625.2,228.5 625.8,228.5 626.5,228.5 627.2,228.4 627.8,228.4 628.5,228.3 629.2,228.3 629.8,228.3 630.5,228.2 631.2,228.2 631.8,228.1 632.5,228.1 633.2,228.1 633.9,228.1 634.5,228.1 635.2,228.0 635.9,228.0 636.5,228.0 637.2,228.0 637.9,228.0 638.5,227.9 639.2,227.9 639.9,227.9 640.5,227.8 641.2,227.9 641.9,227.8 642.6,227.8 643.2,227.8 643.9,227.7 644.6,227.7 645.2,227.7 645.9,227.7 646.6,227.7 647.2,227.6 647.9,227.6 648.6,227.6 649.2,227.6 649.9,227.6 650.6,227.5 651.3,227.5 651.9,227.4 652.6,227.4 653.3,227.4 653.9,227.4 654.6,227.3 655.3,227.3 655.9,227.3 656.6,227.2 657.3,227.2 657.9,227.2 658.6,227.2 659.3,227.2 659.9,227.1 660.6,227.1 661.3,227.1 662.0,227.1 662.6,227.0 663.3,227.0 664.0,227.0 664.6,226.9 665.3,226.9 666.0,226.9 666.6,226.8 667.3,226.8 668.0,226.8 668.6,226.7 669.3,226.7 670.0,226.7 670.7,226.6 671.3,226.6 672.0,226.6 672.7,226.6 673.3,226.5 674.0,226.5" fill="none" stroke="#e8191b" stroke-width="0.9" stroke-opacity="0.85" stroke-linejoin="round"/>
<polyline points="39.7,548.2 40.2,463.0 40.4,493.4 40.7,473.6 40.9,481.6 41.2,473.4 41.4,493.9 41.7,493.7 41.9,491.1 42.2,459.3 42.4,487.5 42.7,477.0 43.0,459.1 43.2,472.3 43.5,451.0 43.7,483.6 44.0,493.0 44.2,488.2 44.5,488.0 44.7,494.6 45.0,467.1 45.2,464.8 45.5,481.1 45.7,476.6 46.0,461.2 46.2,475.8 46.5,461.1 46.7,479.4 47.0,493.2 47.2,474.9 47.5,475.1 47.8,506.9 48.0,475.5 48.3,488.4 48.5,495.0 48.8,484.3 49.0,477.6 49.3,473.2 49.5,458.2 49.8,478.7 50.0,478.5 50.3,490.8 50.5,486.1 50.8,485.2 51.0,494.8 51.3,463.5 51.5,494.0 51.8,462.6 52.0,470.6 52.3,490.8 52.6,486.8 52.8,490.1 53.1,477.7 53.3,494.5 53.6,484.6 53.8,446.2 54.1,483.5 54.3,477.2 54.6,484.4 54.8,477.2 55.1,467.4 55.3,475.3 55.6,465.9 55.8,468.4 56.1,481.7 56.3,484.6 56.6,474.2 56.8,474.9 57.1,487.5 57.4,477.1 57.6,485.3 57.9,462.3 58.1,461.2 58.4,484.3 58.6,468.1 58.9,482.5 59.1,488.9 59.4,489.8 59.6,473.4 59.9,475.7 60.1,487.3 60.4,487.5 60.6,481.0 60.9,450.4 61.1,476.1 61.4,492.9 61.7,477.4 61.9,465.2 62.2,484.4 62.4,468.3 62.7,467.2 62.9,489.6 63.2,486.3 63.4,489.6 63.7,482.2 63.9,475.9 64.2,472.8 64.4,492.5 64.7,467.0 64.9,492.4 65.2,467.6 65.4,483.0 65.7,458.2 65.9,492.9 66.2,491.3 66.5,492.8 66.7,467.7 67.0,480.1 67.2,489.2 67.5,492.0 67.7,481.4 68.0,485.9 68.2,462.4 68.5,488.4 68.7,476.1 69.0,492.5 69.2,475.0 69.5,472.1 69.7,473.7 70.0,491.5 70.2,476.6 70.5,479.8 70.7,492.2 71.0,491.2 71.3,487.6 71.5,487.0 71.8,483.2 72.0,484.7 72.3,485.6 72.5,490.6 72.8,481.7 73.0,484.2 73.3,490.7 73.5,486.7 73.8,488.5 74.0,490.9 74.3,490.8 74.3,490.6" fill="none" stroke="#111" stroke-width="0.75" stroke-opacity="1.0" stroke-linejoin="round"/>
<polyline points="74.3,490.6 75.0,490.3 75.6,490.1 76.3,489.8 77.0,490.0 77.6,489.5 78.3,489.3 79.0,488.5 79.6,488.0 80.3,488.3 81.0,488.1 81.7,487.5 82.3,486.9 83.0,487.2 83.7,487.4 84.3,487.0 85.0,486.2 85.7,485.7 86.3,485.9 87.0,485.3 87.7,484.7 88.3,484.1 89.0,484.6 89.7,484.8 90.4,484.6 91.0,483.9 91.7,484.4 92.4,484.6 93.0,485.1 93.7,484.3 94.4,483.8 95.0,483.5 95.7,483.9 96.4,483.6 97.0,483.0 97.7,482.0 98.4,481.5 99.1,481.2 99.7,481.5 100.4,480.4 101.1,479.9 101.7,479.5 102.4,479.6 103.1,479.5 103.7,479.5 104.4,478.6 105.1,478.2 105.8,476.1 106.4,473.1 107.1,473.3 107.8,479.7 108.4,483.1 109.1,469.6 109.8,474.1 110.4,472.3 111.1,473.8 111.8,468.4 112.4,463.6 113.1,472.8 113.8,470.4 114.5,472.2 115.1,468.0 115.8,474.3 116.5,473.3 117.1,475.2 117.8,469.5 118.5,472.5 119.1,465.1 119.8,468.4 120.5,465.4 121.2,466.6 121.8,467.5 122.5,469.3 123.2,469.3 123.8,468.8 124.5,468.3 125.2,467.7 125.8,467.8 126.5,466.4 127.2,465.3 127.8,463.8 128.5,463.5 129.2,463.8 129.9,463.4 130.5,462.7 131.2,462.2 131.9,462.9 132.5,463.7 133.2,464.0 133.9,464.8 134.5,465.1 135.2,465.2 135.9,466.1 136.5,465.4 137.2,465.7 137.9,465.4 138.6,464.7 139.2,464.7 139.9,464.7 140.6,464.7 141.2,464.5 141.9,464.3 142.6,464.3 143.2,463.8 143.9,463.3 144.6,462.8 145.3,462.6 145.9,461.7 146.6,460.2 147.3,459.5 147.9,458.8 148.6,458.7 149.3,458.6 149.9,458.1 150.6,458.1 151.3,458.6 151.9,458.3 152.6,457.8 153.3,457.5 154.0,457.7 154.6,457.8 155.3,458.3 156.0,458.0 156.6,457.6 157.3,457.9 158.0,457.2 158.6,456.5 159.3,455.3 160.0,453.8 160.7,453.1 161.3,453.2 162.0,452.4 162.7,451.9 163.3,451.7 164.0,452.3 164.7,452.9 165.3,452.4 166.0,452.6 166.7,452.2 167.3,452.1 168.0,451.8 168.7,451.6 169.4,452.0 170.0,452.8 170.7,452.1 171.4,451.9 172.0,452.2 172.7,451.9 173.4,451.5 174.0,449.5 174.7,449.2 175.4,449.5 176.0,448.9 176.7,448.7 177.4,447.7 178.1,447.3 178.7,447.5 179.4,446.0 180.1,445.2 180.7,445.3 181.4,444.9 182.1,444.7 182.7,444.2 183.4,444.7 184.1,444.8 184.8,444.3 185.4,444.0 186.1,443.6 186.8,443.3 187.4,443.3 188.1,443.0 188.8,443.1 189.4,442.8 190.1,442.7 190.8,442.5 191.4,442.9 192.1,442.7 192.8,442.3 193.5,441.5 194.1,441.8 194.8,441.5 195.5,441.1 196.1,440.8 196.8,440.6 197.5,440.1 198.1,439.9 198.8,439.3 199.5,439.0 200.2,438.8 200.8,438.4 201.5,438.2 202.2,438.0 202.8,437.7 203.5,437.5 204.2,437.2 204.8,436.9 205.5,436.7 206.2,436.4 206.8,436.0 207.5,435.8 208.2,435.5 208.9,435.5 209.5,435.1 210.2,434.8 210.9,434.3 211.5,434.2 212.2,434.1 212.9,434.0 213.5,433.7 214.2,433.4 214.9,433.3 215.5,433.2 216.2,432.8 216.9,432.4 217.6,432.0 218.2,431.7 218.9,431.5 219.6,431.2 220.2,431.0 220.9,430.8 221.6,430.7 222.2,430.7 222.9,430.5 223.6,430.4 224.3,430.3 224.9,430.0 225.6,429.9 226.3,429.6 226.9,429.2 227.6,429.0 228.3,428.8 228.9,428.6 229.6,428.4 230.3,428.2 230.9,427.8 231.6,427.6 232.3,427.3 233.0,427.1 233.6,426.9 234.3,426.7 235.0,426.4 235.6,426.4 236.3,426.2 237.0,425.9 237.6,425.7 238.3,425.3 239.0,425.0 239.7,424.8 240.3,424.4 241.0,424.3 241.7,424.1 242.3,423.9 243.0,423.7 243.7,423.4 244.3,423.0 245.0,423.0 245.7,422.8 246.3,422.8 247.0,422.6 247.7,422.4 248.4,422.3 249.0,422.1 249.7,421.7 250.4,421.4 251.0,421.3 251.7,421.2 252.4,420.9 253.0,420.8 253.7,420.8 254.4,420.7 255.1,420.4 255.7,420.0 256.4,419.8 257.1,419.7 257.7,419.6 258.4,419.2 259.1,418.8 259.7,418.7 260.4,418.4 261.1,418.3 261.7,418.1 262.4,417.7 263.1,417.5 263.8,417.6 264.4,417.3 265.1,417.2 265.8,417.0 266.4,416.8 267.1,416.5 267.8,416.4 268.4,416.1 269.1,415.9 269.8,415.7 270.4,415.3 271.1,415.2 271.8,415.0 272.5,414.6 273.1,414.2 273.8,414.1 274.5,413.8 275.1,413.6 275.8,413.4 276.5,413.3 277.1,413.2 277.8,413.1 278.5,413.0 279.2,412.8 279.8,412.7 280.5,412.6 281.2,412.3 281.8,412.1 282.5,412.0 283.2,411.9 283.8,411.7 284.5,411.5 285.2,411.3 285.8,411.1 286.5,410.9 287.2,410.7 287.9,410.5 288.5,410.3 289.2,410.1 289.9,409.9 290.5,409.7 291.2,409.6 291.9,409.3 292.5,409.0 293.2,408.8 293.9,408.6 294.6,408.2 295.2,408.0 295.9,407.8 296.6,407.7 297.2,407.5 297.9,407.2 298.6,407.0 299.2,407.0 299.9,406.8 300.6,406.5 301.2,406.2 301.9,405.9 302.6,405.6 303.3,405.3 303.9,405.0 304.6,404.7 305.3,404.7 305.9,404.5 306.6,404.2 307.3,404.1 307.9,403.9 308.6,403.8 309.3,403.7 309.9,403.4 310.6,403.3 311.3,403.2 312.0,403.1 312.6,403.0 313.3,402.6 314.0,402.3 314.6,402.1 315.3,401.7 316.0,401.4 316.6,401.2 317.3,401.0 318.0,400.9 318.7,400.8 319.3,400.6 320.0,400.5 320.7,400.3 321.3,400.0 322.0,399.7" fill="none" stroke="#111" stroke-width="0.9" stroke-opacity="1.0" stroke-linejoin="round"/>
<polyline points="40.5,548.2 40.9,507.9 41.2,410.2 41.5,500.2 41.9,502.2 42.2,488.0 42.6,476.0 42.9,476.5 43.3,461.2 43.6,482.8 43.9,497.3 44.3,502.3 44.6,494.4 45.0,513.5 45.3,480.6 45.7,499.2 46.0,470.2 46.3,499.1 46.7,448.6 47.0,509.0 47.4,504.1 47.7,492.7 48.1,482.8 48.4,508.8 48.7,497.4 49.1,486.3 49.4,466.1 49.8,505.0 50.1,506.8 50.5,504.9 50.8,500.5 51.1,476.2 51.5,493.4 51.8,506.2 52.2,484.0 52.5,491.5 52.9,494.9 53.2,482.9 53.5,497.5 53.9,500.4 54.2,490.0 54.6,488.7 54.9,491.1 55.3,487.9 55.6,503.3 55.9,487.1 56.3,500.6 56.6,494.2 57.0,500.7 57.3,496.3 57.7,488.9 58.0,499.2 58.3,488.9 58.7,496.8 59.0,490.8 59.4,496.7 59.7,497.7 60.1,493.5 60.4,497.9 60.7,494.2 61.1,497.0 61.4,496.3 61.4,493.8" fill="none" stroke="#e8191b" stroke-width="0.75" stroke-opacity="0.85" stroke-linejoin="round"/>
<polyline points="61.4,493.8 62.1,493.5 62.8,494.4 63.4,493.9 64.1,494.7 64.8,494.7 65.4,494.2 66.1,493.7 66.8,493.4 67.5,493.1 68.1,493.0 68.8,491.6 69.5,491.4 70.1,491.2 70.8,491.5 71.5,491.5 72.1,490.7 72.8,491.4 73.5,492.0 74.2,492.6 74.8,493.3 75.5,492.6 76.2,491.9 76.8,491.8 77.5,490.9 78.2,490.9 78.8,490.1 79.5,489.5 80.2,489.1 80.9,489.8 81.5,489.8 82.2,488.8 82.9,488.4 83.5,487.8 84.2,487.3 84.9,488.3 85.5,487.2 86.2,486.5 86.9,487.0 87.6,485.9 88.2,485.1 88.9,484.5 89.6,482.5 90.2,482.3 90.9,481.3 91.6,480.7 92.2,480.4 92.9,479.6 93.6,478.1 94.3,475.2 94.9,471.8 95.6,468.9 96.3,467.9 96.9,470.4 97.6,476.0 98.3,482.1 98.9,489.8 99.6,496.7 100.3,493.6 100.9,483.8 101.6,481.7 102.3,480.9 103.0,480.3 103.6,479.9 104.3,479.5 105.0,479.3 105.6,479.0 106.3,478.8 107.0,478.5 107.6,478.1 108.3,477.6 109.0,477.2 109.7,476.7 110.3,476.3 111.0,475.8 111.7,475.3 112.3,474.8 113.0,474.4 113.7,473.9 114.3,473.4 115.0,472.9 115.7,472.4 116.4,471.9 117.0,471.4 117.7,470.9 118.4,470.4 119.0,469.9 119.7,469.4 120.4,468.9 121.0,468.4 121.7,467.9 122.4,467.4 123.1,466.8 123.7,466.3 124.4,465.8 125.1,465.2 125.7,464.7 126.4,464.2 127.1,463.8 127.7,463.3 128.4,462.9 129.1,462.5 129.8,462.1 130.4,461.7 131.1,461.3 131.8,460.9 132.4,460.5 133.1,460.1 133.8,459.8 134.4,459.4 135.1,459.0 135.8,458.7 136.5,458.3 137.1,458.0 137.8,457.6 138.5,457.3 139.1,456.9 139.8,456.6 140.5,456.2 141.1,455.9 141.8,455.5 142.5,455.1 143.2,454.8 143.8,454.4 144.5,454.0 145.2,453.7 145.8,453.3 146.5,452.9 147.2,452.6 147.8,452.2 148.5,451.8 149.2,451.5 149.8,451.1 150.5,450.7 151.2,450.4 151.9,450.0 152.5,449.6 153.2,449.3 153.9,448.9 154.5,448.5 155.2,448.2 155.9,447.8 156.5,447.4 157.2,447.1 157.9,446.7 158.6,446.4 159.2,446.0 159.9,445.6 160.6,445.3 161.2,444.9 161.9,444.5 162.6,444.2 163.2,443.8 163.9,443.5 164.6,443.1 165.3,442.7 165.9,442.4 166.6,442.0 167.3,441.7 167.9,441.3 168.6,441.0 169.3,440.6 169.9,440.2 170.6,439.9 171.3,439.5 172.0,439.2 172.6,438.8 173.3,438.5 174.0,438.1 174.6,437.8 175.3,437.5 176.0,437.1 176.6,436.8 177.3,436.4 178.0,436.1 178.7,435.7 179.3,435.4 180.0,435.1 180.7,434.7 181.3,434.4 182.0,434.0 182.7,433.7 183.3,433.4 184.0,433.0 184.7,432.7 185.4,432.3 186.0,432.0 186.7,431.6 187.4,431.3 188.0,431.0 188.7,430.6 189.4,430.3 190.0,429.9 190.7,429.6 191.4,429.2 192.0,428.9 192.7,428.5 193.4,428.1 194.1,427.8 194.7,427.4 195.4,427.1 196.1,426.7 196.7,426.3 197.4,426.0 198.1,425.6 198.7,425.2 199.4,424.8 200.1,424.4 200.8,424.0 201.4,423.6 202.1,423.2 202.8,422.8 203.4,422.5 204.1,422.1 204.8,421.7 205.4,421.3 206.1,420.9 206.8,420.5 207.5,420.1 208.1,419.8 208.8,419.4 209.5,419.1 210.1,418.7 210.8,418.3 211.5,418.0 212.1,417.6 212.8,417.3 213.5,416.9 214.2,416.6 214.8,416.3 215.5,415.9 216.2,415.6 216.8,415.2 217.5,414.9 218.2,414.6 218.8,414.2 219.5,413.9 220.2,413.5 220.9,413.2 221.5,412.9 222.2,412.5 222.9,412.2 223.5,411.9 224.2,411.5 224.9,411.2 225.5,410.9 226.2,410.5 226.9,410.2 227.6,409.9 228.2,409.5 228.9,409.2 229.6,408.9 230.2,408.5 230.9,408.2 231.6,407.9 232.2,407.5 232.9,407.2 233.6,406.8 234.2,406.5 234.9,406.2 235.6,405.8 236.3,405.5 236.9,405.1 237.6,404.8 238.3,404.4 238.9,404.1 239.6,403.7 240.3,403.3 240.9,403.0 241.6,402.6 242.3,402.3 243.0,401.9 243.6,401.5 244.3,401.2 245.0,400.8 245.6,400.4 246.3,400.1 247.0,399.7 247.6,399.4 248.3,399.0 249.0,398.6 249.7,398.3 250.3,397.9 251.0,397.5 251.7,397.2 252.3,396.8 253.0,396.5 253.7,396.1 254.3,395.8 255.0,395.4 255.7,395.1 256.4,394.7 257.0,394.4 257.7,394.1 258.4,393.7 259.0,393.4 259.7,393.1 260.4,392.7 261.0,392.4 261.7,392.1 262.4,391.7 263.1,391.4 263.7,391.1 264.4,390.8 265.1,390.5 265.7,390.1 266.4,389.8 267.1,389.5 267.7,389.2 268.4,388.9 269.1,388.6 269.8,388.2 270.4,387.9 271.1,387.6 271.8,387.3 272.4,387.0 273.1,386.7 273.8,386.4 274.4,386.1 275.1,385.7 275.8,385.4 276.5,385.1 277.1,384.8 277.8,384.5 278.5,384.2 279.1,383.9 279.8,383.5 280.5,383.2 281.1,382.9 281.8,382.6 282.5,382.3 283.1,381.9 283.8,381.6 284.5,381.3 285.2,381.0 285.8,380.6 286.5,380.3 287.2,380.0 287.8,379.7 288.5,379.3 289.2,379.0 289.8,378.7 290.5,378.4 291.2,378.0 291.9,377.7 292.5,377.4 293.2,377.1 293.9,376.7 294.5,376.4 295.2,376.1 295.9,375.8 296.5,375.4 297.2,375.1 297.9,374.8 298.6,374.5 299.2,374.1 299.9,373.8 300.6,373.5 301.2,373.2 301.9,372.9 302.6,372.6 303.2,372.3 303.9,371.9 304.6,371.6 305.3,371.3 305.9,371.0 306.6,370.7 307.3,370.4 307.9,370.1 308.6,369.8 309.3,369.6 309.9,369.3 310.6,369.0 311.3,368.7 312.0,368.4 312.6,368.1 313.3,367.9 314.0,367.6 314.6,367.3 315.3,367.1 316.0,366.8 316.6,366.5 317.3,366.3 318.0,366.0 318.7,365.8 319.3,365.6 320.0,365.3 320.7,365.1 321.3,364.9 322.0,364.6" fill="none" stroke="#e8191b" stroke-width="0.9" stroke-opacity="0.85" stroke-linejoin="round"/>
<polyline points="389.3,548.2 389.7,438.1 389.9,450.5 390.1,485.9 390.3,446.0 390.6,426.4 390.8,475.5 391.0,466.1 391.2,460.3 391.5,476.1 391.7,458.8 391.9,451.1 392.1,441.7 392.4,476.2 392.6,470.9 392.8,460.4 393.0,432.6 393.3,436.3 393.5,489.8 393.7,448.5 393.9,485.9 394.2,480.0 394.4,461.3 394.6,447.5 394.8,485.5 395.1,413.9 395.3,476.3 395.5,443.3 395.7,438.7 396.0,483.1 396.2,486.3 396.4,440.2 396.6,487.2 396.9,447.0 397.1,431.1 397.3,427.3 397.5,463.0 397.8,476.6 398.0,453.0 398.2,502.1 398.4,478.5 398.7,478.2 398.9,482.5 399.1,442.4 399.3,448.9 399.6,397.9 399.8,463.7 400.0,439.5 400.2,417.2 400.5,440.0 400.7,475.7 400.9,473.1 401.1,444.1 401.4,452.0 401.6,491.3 401.8,482.4 402.0,437.8 402.3,489.3 402.5,453.0 402.7,480.4 402.9,474.6 403.2,445.6 403.4,502.1 403.6,491.1 403.8,442.1 404.1,491.3 404.3,461.0 404.5,465.6 404.7,489.1 405.0,437.5 405.2,460.2 405.4,439.9 405.6,457.4 405.9,460.0 406.1,487.4 406.3,474.9 406.5,465.3 406.8,442.4 407.0,487.5 407.2,461.6 407.4,465.5 407.7,472.3 407.9,450.0 408.1,470.4 408.3,460.1 408.6,485.9 408.8,425.6 409.0,447.4 409.2,465.6 409.5,474.9 409.7,462.9 409.9,488.9 410.1,458.4 410.4,474.0 410.6,479.6 410.8,473.8 411.0,484.7 411.3,484.4 411.5,463.8 411.7,478.4 411.9,463.3 412.2,457.4 412.4,467.4 412.6,485.7 412.8,464.4 413.1,478.2 413.3,468.8 413.5,486.6 413.7,484.0 414.0,473.4 414.2,473.8 414.4,487.3 414.6,470.3 414.9,465.8 415.1,480.3 415.3,479.9 415.5,477.2 415.8,483.7 416.0,481.3 416.2,474.5 416.4,485.2 416.7,482.7 416.9,471.4 417.1,471.4 417.3,485.4 417.6,473.6 417.8,485.6 418.0,481.8 418.2,484.4 418.5,484.7 418.7,481.2 418.9,483.7 419.1,480.7 419.4,484.1 419.6,481.2 419.8,481.0 420.0,482.8 420.3,482.8 420.5,483.0 420.5,484.3" fill="none" stroke="#111" stroke-width="0.75" stroke-opacity="1.0" stroke-linejoin="round"/>
<polyline points="420.5,484.3 421.2,484.0 421.8,484.8 422.5,484.2 423.2,483.7 423.8,482.7 424.5,482.3 425.2,481.8 425.8,481.3 426.5,481.0 427.2,480.9 427.9,480.6 428.5,480.6 429.2,481.7 429.9,481.0 430.5,480.4 431.2,479.7 431.9,479.6 432.5,480.2 433.2,479.9 433.9,479.0 434.5,479.6 435.2,478.8 435.9,477.8 436.6,477.1 437.2,476.0 437.9,476.3 438.6,475.9 439.2,474.9 439.9,475.3 440.6,475.5 441.2,475.3 441.9,475.3 442.6,473.9 443.2,472.9 443.9,472.5 444.6,471.8 445.2,471.2 445.9,471.5 446.6,467.1 447.3,460.7 447.9,466.9 448.6,456.7 449.3,452.0 449.9,464.5 450.6,471.0 451.3,479.9 451.9,465.5 452.6,474.3 453.3,469.4 453.9,473.6 454.6,466.8 455.3,459.3 455.9,454.5 456.6,445.7 457.3,436.0 458.0,431.5 458.6,432.5 459.3,436.3 460.0,441.6 460.6,446.9 461.3,452.4 462.0,458.0 462.6,459.3 463.3,460.1 464.0,461.3 464.6,462.7 465.3,463.9 466.0,465.1 466.6,464.4 467.3,465.1 468.0,465.1 468.7,464.3 469.3,464.2 470.0,464.1 470.7,463.2 471.3,463.3 472.0,462.0 472.7,462.0 473.3,462.0 474.0,460.4 474.7,460.3 475.3,459.0 476.0,458.5 476.7,458.4 477.4,457.1 478.0,456.2 478.7,456.7 479.4,455.1 480.0,453.5 480.7,451.4 481.4,449.7 482.0,447.8 482.7,445.0 483.4,442.1 484.0,441.0 484.7,440.8 485.4,440.7 486.0,441.5 486.7,442.9 487.4,445.3 488.1,448.2 488.7,449.4 489.4,449.6 490.1,450.2 490.7,450.3 491.4,450.4 492.1,451.3 492.7,450.8 493.4,450.2 494.1,450.4 494.7,450.3 495.4,450.9 496.1,451.1 496.7,450.9 497.4,451.3 498.1,452.2 498.8,452.2 499.4,452.3 500.1,451.6 500.8,450.7 501.4,450.4 502.1,449.8 502.8,448.4 503.4,447.7 504.1,446.7 504.8,445.4 505.4,445.6 506.1,445.2 506.8,445.6 507.5,445.2 508.1,444.2 508.8,443.3 509.5,443.1 510.1,443.4 510.8,442.6 511.5,442.3 512.1,442.4 512.8,442.3 513.5,441.7 514.1,441.5 514.8,440.1 515.5,440.3 516.1,439.5 516.8,439.6 517.5,439.3 518.2,439.6 518.8,439.2 519.5,439.7 520.2,438.8 520.8,438.3 521.5,438.0 522.2,436.6 522.8,436.8 523.5,436.1 524.2,435.4 524.8,434.7 525.5,433.7 526.2,433.1 526.8,432.7 527.5,432.2 528.2,431.4 528.9,430.7 529.5,431.6 530.2,431.2 530.9,430.0 531.5,430.2 532.2,428.9 532.9,429.0 533.5,429.0 534.2,428.3 534.9,429.3 535.5,430.7 536.2,430.3 536.9,430.1 537.5,430.2 538.2,430.1 538.9,429.7 539.6,429.0 540.2,428.2 540.9,428.2 541.6,427.9 542.2,427.9 542.9,427.4 543.6,427.4 544.2,427.1 544.9,426.6 545.6,426.2 546.2,426.0 546.9,425.7 547.6,425.4 548.3,425.1 548.9,424.7 549.6,424.5 550.3,424.1 550.9,423.7 551.6,423.2 552.3,422.9 552.9,422.7 553.6,422.4 554.3,422.0 554.9,421.6 555.6,421.3 556.3,420.6 556.9,420.2 557.6,419.3 558.3,418.9 559.0,418.6 559.6,418.3 560.3,417.8 561.0,417.5 561.6,416.8 562.3,416.6 563.0,416.1 563.6,415.6 564.3,415.1 565.0,414.5 565.6,414.2 566.3,414.1 567.0,414.0 567.6,413.7 568.3,413.7 569.0,413.4 569.7,413.4 570.3,412.9 571.0,412.5 571.7,412.2 572.3,411.6 573.0,411.2 573.7,411.1 574.3,410.8 575.0,410.5 575.7,410.4 576.3,409.9 577.0,409.9 577.7,409.6 578.4,409.3 579.0,409.0 579.7,408.8 580.4,408.7 581.0,408.5 581.7,408.4 582.4,408.1 583.0,407.9 583.7,407.7 584.4,407.5 585.0,407.0 585.7,406.9 586.4,406.6 587.0,406.2 587.7,405.9 588.4,405.5 589.1,405.1 589.7,404.9 590.4,404.6 591.1,404.3 591.7,404.3 592.4,404.0 593.1,403.9 593.7,403.6 594.4,403.0 595.1,403.1 595.7,402.7 596.4,402.5 597.1,402.3 597.7,402.0 598.4,402.3 599.1,402.4 599.8,401.8 600.4,401.6 601.1,401.1 601.8,401.0 602.4,400.6 603.1,400.1 603.8,400.1 604.4,399.9 605.1,399.6 605.8,399.5 606.4,399.2 607.1,399.2 607.8,399.2 608.5,398.6 609.1,398.2 609.8,398.0 610.5,397.8 611.1,397.6 611.8,397.4 612.5,396.8 613.1,396.7 613.8,396.8 614.5,396.7 615.1,396.5 615.8,396.3 616.5,396.0 617.1,395.7 617.8,395.4 618.5,394.9 619.2,394.8 619.8,394.5 620.5,394.3 621.2,394.2 621.8,394.2 622.5,394.2 623.2,394.0 623.8,393.6 624.5,393.4 625.2,393.2 625.8,392.9 626.5,392.5 627.2,392.1 627.8,392.0 628.5,391.9 629.2,391.7 629.9,391.3 630.5,391.3 631.2,391.2 631.9,390.9 632.5,390.6 633.2,390.2 633.9,389.9 634.5,389.9 635.2,389.6 635.9,389.1 636.5,389.2 637.2,389.0 637.9,388.9 638.5,388.7 639.2,388.1 639.9,387.9 640.6,387.8 641.2,387.3 641.9,387.1 642.6,386.9 643.2,386.8 643.9,386.8 644.6,386.5 645.2,386.2 645.9,386.1 646.6,385.7 647.2,385.6 647.9,385.5 648.6,385.0 649.3,384.8 649.9,384.6 650.6,384.5 651.3,384.4 651.9,383.9 652.6,383.5 653.3,383.3 653.9,383.0 654.6,382.7 655.3,382.4 655.9,382.3 656.6,382.3 657.3,382.0 657.9,381.8 658.6,381.6 659.3,381.4 660.0,381.1 660.6,380.8 661.3,380.4 662.0,380.3 662.6,380.0 663.3,379.9 664.0,380.0 664.6,379.7 665.3,379.2 666.0,379.0 666.6,378.7 667.3,378.5 668.0,378.1 668.6,377.7 669.3,377.4 670.0,377.2 670.7,377.0 671.3,376.5 672.0,376.4 672.7,376.2 673.3,376.0 674.0,375.8" fill="none" stroke="#111" stroke-width="0.9" stroke-opacity="1.0" stroke-linejoin="round"/>
<polyline points="389.3,548.2 389.7,473.5 390.1,489.7 390.5,467.7 390.9,476.6 391.3,506.2 391.7,459.2 392.1,472.3 392.6,470.6 393.0,500.0 393.4,488.3 393.8,491.7 394.2,461.1 394.6,447.4 395.0,467.7 395.4,488.4 395.9,497.0 396.3,483.0 396.7,501.3 397.1,467.3 397.5,479.0 397.9,471.9 398.3,492.3 398.7,426.4 399.1,464.6 399.6,471.8 400.0,497.6 400.4,487.8 400.8,500.5 401.2,397.9 401.6,478.5 402.0,475.8 402.4,464.7 402.9,493.1 403.3,439.1 403.7,488.2 404.1,496.2 404.5,497.1 404.9,487.8 405.3,494.5 405.7,481.0 406.2,488.6 406.6,475.5 407.0,480.4 407.4,490.9 407.8,476.8 408.2,478.1 408.6,488.5 409.0,490.0 409.5,482.7 409.9,490.8 410.3,489.7 410.7,490.1 411.1,484.0 411.5,485.8 411.9,486.3 411.9,487.7" fill="none" stroke="#e8191b" stroke-width="0.75" stroke-opacity="0.85" stroke-linejoin="round"/>
<polyline points="411.9,487.7 412.6,488.2 413.3,488.0 413.9,487.3 414.6,487.2 415.3,486.4 415.9,485.9 416.6,484.3 417.3,483.6 417.9,483.6 418.6,483.3 419.3,483.0 420.0,482.8 420.6,481.6 421.3,482.3 422.0,482.2 422.6,481.8 423.3,481.8 424.0,480.7 424.6,480.1 425.3,479.9 426.0,480.4 426.6,479.8 427.3,479.3 428.0,478.8 428.6,479.3 429.3,479.6 430.0,479.6 430.7,478.3 431.3,478.2 432.0,478.3 432.7,478.3 433.3,477.7 434.0,476.8 434.7,476.7 435.3,476.2 436.0,475.9 436.7,474.9 437.3,474.5 438.0,474.4 438.7,474.3 439.3,473.9 440.0,473.3 440.7,471.9 441.3,471.3 442.0,469.4 442.7,465.4 443.4,461.5 444.0,460.5 444.7,463.6 445.4,468.8 446.0,474.0 446.7,480.6 447.4,486.6 448.0,488.0 448.7,473.5 449.4,456.9 450.0,457.2 450.7,465.9 451.4,472.9 452.0,476.9 452.7,480.1 453.4,481.8 454.1,481.4 454.7,479.5 455.4,476.8 456.1,473.8 456.7,471.2 457.4,469.6 458.1,468.6 458.7,467.7 459.4,466.9 460.1,466.1 460.7,465.4 461.4,464.7 462.1,464.1 462.7,463.6 463.4,463.0 464.1,462.5 464.7,462.1 465.4,461.6 466.1,461.2 466.8,460.8 467.4,460.4 468.1,460.0 468.8,459.6 469.4,459.2 470.1,458.8 470.8,458.5 471.4,458.2 472.1,457.9 472.8,457.6 473.4,457.3 474.1,457.1 474.8,456.8 475.4,456.5 476.1,456.2 476.8,455.9 477.4,455.6 478.1,455.2 478.8,454.9 479.5,454.5 480.1,454.1 480.8,453.7 481.5,453.3 482.1,452.9 482.8,452.5 483.5,452.1 484.1,451.7 484.8,451.2 485.5,450.8 486.1,450.4 486.8,449.9 487.5,449.5 488.1,449.1 488.8,448.7 489.5,448.3 490.2,447.9 490.8,447.5 491.5,447.1 492.2,446.8 492.8,446.4 493.5,446.0 494.2,445.7 494.8,445.3 495.5,445.0 496.2,444.7 496.8,444.3 497.5,444.0 498.2,443.7 498.8,443.3 499.5,443.0 500.2,442.7 500.8,442.4 501.5,442.0 502.2,441.7 502.9,441.4 503.5,441.0 504.2,440.7 504.9,440.3 505.5,440.0 506.2,439.6 506.9,439.3 507.5,438.9 508.2,438.5 508.9,438.1 509.5,437.7 510.2,437.3 510.9,436.9 511.5,436.5 512.2,436.0 512.9,435.6 513.6,435.2 514.2,434.7 514.9,434.3 515.6,433.8 516.2,433.4 516.9,432.9 517.6,432.4 518.2,432.0 518.9,431.5 519.6,431.0 520.2,430.5 520.9,430.1 521.6,429.6 522.2,429.1 522.9,428.7 523.6,428.2 524.2,427.7 524.9,427.3 525.6,426.8 526.3,426.3 526.9,425.9 527.6,425.5 528.3,425.0 528.9,424.6 529.6,424.2 530.3,423.7 530.9,423.3 531.6,422.9 532.3,422.5 532.9,422.1 533.6,421.7 534.3,421.3 534.9,420.9 535.6,420.5 536.3,420.1 536.9,419.7 537.6,419.3 538.3,418.9 539.0,418.5 539.6,418.1 540.3,417.7 541.0,417.3 541.6,416.9 542.3,416.5 543.0,416.1 543.6,415.7 544.3,415.3 545.0,414.9 545.6,414.5 546.3,414.1 547.0,413.7 547.6,413.3 548.3,412.9 549.0,412.5 549.7,412.1 550.3,411.7 551.0,411.3 551.7,410.9 552.3,410.5 553.0,410.1 553.7,409.7 554.3,409.3 555.0,408.9 555.7,408.5 556.3,408.1 557.0,407.7 557.7,407.3 558.3,406.9 559.0,406.5 559.7,406.1 560.3,405.7 561.0,405.3 561.7,404.9 562.4,404.5 563.0,404.1 563.7,403.7 564.4,403.3 565.0,402.9 565.7,402.5 566.4,402.1 567.0,401.7 567.7,401.3 568.4,401.0 569.0,400.6 569.7,400.2 570.4,399.8 571.0,399.4 571.7,399.0 572.4,398.6 573.1,398.2 573.7,397.9 574.4,397.5 575.1,397.1 575.7,396.7 576.4,396.3 577.1,395.9 577.7,395.6 578.4,395.2 579.1,394.8 579.7,394.4 580.4,394.0 581.1,393.6 581.7,393.2 582.4,392.9 583.1,392.5 583.7,392.1 584.4,391.7 585.1,391.3 585.8,390.9 586.4,390.6 587.1,390.2 587.8,389.8 588.4,389.4 589.1,389.0 589.8,388.7 590.4,388.3 591.1,387.9 591.8,387.5 592.4,387.1 593.1,386.8 593.8,386.4 594.4,386.0 595.1,385.6 595.8,385.3 596.4,384.9 597.1,384.5 597.8,384.1 598.5,383.8 599.1,383.4 599.8,383.0 600.5,382.7 601.1,382.3 601.8,381.9 602.5,381.6 603.1,381.2 603.8,380.8 604.5,380.5 605.1,380.1 605.8,379.8 606.5,379.4 607.1,379.1 607.8,378.7 608.5,378.3 609.2,378.0 609.8,377.6 610.5,377.3 611.2,377.0 611.8,376.6 612.5,376.3 613.2,375.9 613.8,375.6 614.5,375.3 615.2,374.9 615.8,374.6 616.5,374.3 617.2,373.9 617.8,373.6 618.5,373.3 619.2,373.0 619.8,372.6 620.5,372.3 621.2,372.0 621.9,371.7 622.5,371.4 623.2,371.1 623.9,370.7 624.5,370.4 625.2,370.1 625.9,369.8 626.5,369.5 627.2,369.2 627.9,368.9 628.5,368.6 629.2,368.3 629.9,368.0 630.5,367.7 631.2,367.4 631.9,367.1 632.6,366.8 633.2,366.5 633.9,366.2 634.6,365.9 635.2,365.6 635.9,365.4 636.6,365.1 637.2,364.8 637.9,364.5 638.6,364.2 639.2,363.9 639.9,363.6 640.6,363.3 641.2,363.0 641.9,362.7 642.6,362.5 643.2,362.2 643.9,361.9 644.6,361.6 645.3,361.3 645.9,361.0 646.6,360.7 647.3,360.4 647.9,360.1 648.6,359.9 649.3,359.6 649.9,359.3 650.6,359.0 651.3,358.7 651.9,358.4 652.6,358.1 653.3,357.8 653.9,357.5 654.6,357.2 655.3,356.9 655.9,356.6 656.6,356.3 657.3,356.0 658.0,355.7 658.6,355.4 659.3,355.1 660.0,354.8 660.6,354.5 661.3,354.2 662.0,353.9 662.6,353.6 663.3,353.3 664.0,353.0 664.6,352.7 665.3,352.4 666.0,352.1 666.6,351.7 667.3,351.4 668.0,351.1 668.7,350.8 669.3,350.5 670.0,350.2 670.7,349.9 671.3,349.6 672.0,349.3 672.7,349.0 673.3,348.6 674.0,348.3" fill="none" stroke="#e8191b" stroke-width="0.9" stroke-opacity="0.85" stroke-linejoin="round"/>
<rect x="22.20" y="36.80" width="299.80" height="209.50" fill="none" stroke="#a2a2a2" stroke-width="1.4"/>
<path d="M22.20,246.30v-5M22.20,36.80v5M172.10,246.30v-5M172.10,36.80v5M322.00,246.30v-5M322.00,36.80v5M97.15,246.30v-2.6M97.15,36.80v2.6M247.05,246.30v-2.6M247.05,36.80v2.6M22.20,246.30h5M322.00,246.30h-5M22.20,193.93h5M322.00,193.93h-5M22.20,141.55h5M322.00,141.55h-5M22.20,89.18h5M322.00,89.18h-5M22.20,36.80h5M322.00,36.80h-5M22.20,220.11h2.6M322.00,220.11h-2.6M22.20,167.74h2.6M322.00,167.74h-2.6M22.20,115.36h2.6M322.00,115.36h-2.6M22.20,62.99h2.6M322.00,62.99h-2.6" stroke="#9a9a9a" stroke-width="1.1" fill="none"/>
<text x="22.20" y="255.30" text-anchor="middle" class="tk">0</text>
<text x="172.10" y="255.30" text-anchor="middle" class="tk">1</text>
<text x="322.00" y="255.30" text-anchor="middle" class="tk">2</text>
<text x="19.00" y="249.10" text-anchor="end" class="tk">0</text>
<text x="19.00" y="196.73" text-anchor="end" class="tk">2</text>
<text x="19.00" y="144.35" text-anchor="end" class="tk">4</text>
<text x="19.00" y="91.98" text-anchor="end" class="tk">6</text>
<text x="19.00" y="39.60" text-anchor="end" class="tk">8</text>
<rect x="374.25" y="36.80" width="299.75" height="209.60" fill="none" stroke="#a2a2a2" stroke-width="1.4"/>
<path d="M374.25,246.40v-5M374.25,36.80v5M449.19,246.40v-5M449.19,36.80v5M524.12,246.40v-5M524.12,36.80v5M599.06,246.40v-5M599.06,36.80v5M674.00,246.40v-5M674.00,36.80v5M411.72,246.40v-2.6M411.72,36.80v2.6M486.66,246.40v-2.6M486.66,36.80v2.6M561.59,246.40v-2.6M561.59,36.80v2.6M636.53,246.40v-2.6M636.53,36.80v2.6M374.25,246.40h5M674.00,246.40h-5M374.25,194.00h5M674.00,194.00h-5M374.25,141.60h5M674.00,141.60h-5M374.25,89.20h5M674.00,89.20h-5M374.25,36.80h5M674.00,36.80h-5M374.25,220.20h2.6M674.00,220.20h-2.6M374.25,167.80h2.6M674.00,167.80h-2.6M374.25,115.40h2.6M674.00,115.40h-2.6M374.25,63.00h2.6M674.00,63.00h-2.6" stroke="#9a9a9a" stroke-width="1.1" fill="none"/>
<text x="374.25" y="255.40" text-anchor="middle" class="tk">0</text>
<text x="449.19" y="255.40" text-anchor="middle" class="tk">0.5</text>
<text x="524.12" y="255.40" text-anchor="middle" class="tk">1</text>
<text x="599.06" y="255.40" text-anchor="middle" class="tk">1.5</text>
<text x="674.00" y="255.40" text-anchor="middle" class="tk">2</text>
<text x="371.05" y="249.20" text-anchor="end" class="tk">0</text>
<text x="371.05" y="196.80" text-anchor="end" class="tk">1</text>
<text x="371.05" y="144.40" text-anchor="end" class="tk">2</text>
<text x="371.05" y="92.00" text-anchor="end" class="tk">3</text>
<text x="371.05" y="39.60" text-anchor="end" class="tk">4</text>
<rect x="22.00" y="338.25" width="300.00" height="210.00" fill="none" stroke="#a2a2a2" stroke-width="1.4"/>
<path d="M22.00,548.25v-5M22.00,338.25v5M64.86,548.25v-5M64.86,338.25v5M107.71,548.25v-5M107.71,338.25v5M150.57,548.25v-5M150.57,338.25v5M193.43,548.25v-5M193.43,338.25v5M236.29,548.25v-5M236.29,338.25v5M279.14,548.25v-5M279.14,338.25v5M322.00,548.25v-5M322.00,338.25v5M43.43,548.25v-2.6M43.43,338.25v2.6M86.29,548.25v-2.6M86.29,338.25v2.6M129.14,548.25v-2.6M129.14,338.25v2.6M172.00,548.25v-2.6M172.00,338.25v2.6M214.86,548.25v-2.6M214.86,338.25v2.6M257.71,548.25v-2.6M257.71,338.25v2.6M300.57,548.25v-2.6M300.57,338.25v2.6M22.00,548.25h5M322.00,548.25h-5M22.00,488.25h5M322.00,488.25h-5M22.00,428.25h5M322.00,428.25h-5M22.00,368.25h5M322.00,368.25h-5M22.00,518.25h2.6M322.00,518.25h-2.6M22.00,458.25h2.6M322.00,458.25h-2.6M22.00,398.25h2.6M322.00,398.25h-2.6" stroke="#9a9a9a" stroke-width="1.1" fill="none"/>
<text x="22.00" y="557.25" text-anchor="middle" class="tk">0.25</text>
<text x="64.86" y="557.25" text-anchor="middle" class="tk">0.5</text>
<text x="107.71" y="557.25" text-anchor="middle" class="tk">0.75</text>
<text x="150.57" y="557.25" text-anchor="middle" class="tk">1</text>
<text x="193.43" y="557.25" text-anchor="middle" class="tk">1.25</text>
<text x="236.29" y="557.25" text-anchor="middle" class="tk">1.5</text>
<text x="279.14" y="557.25" text-anchor="middle" class="tk">1.75</text>
<text x="322.00" y="557.25" text-anchor="middle" class="tk">2</text>
<text x="18.80" y="551.05" text-anchor="end" class="tk">0</text>
<text x="18.80" y="491.05" text-anchor="end" class="tk">1</text>
<text x="18.80" y="431.05" text-anchor="end" class="tk">2</text>
<text x="18.80" y="371.05" text-anchor="end" class="tk">3</text>
<rect x="374.25" y="338.25" width="299.75" height="210.00" fill="none" stroke="#a2a2a2" stroke-width="1.4"/>
<path d="M374.25,548.25v-5M374.25,338.25v5M417.07,548.25v-5M417.07,338.25v5M459.89,548.25v-5M459.89,338.25v5M502.71,548.25v-5M502.71,338.25v5M545.54,548.25v-5M545.54,338.25v5M588.36,548.25v-5M588.36,338.25v5M631.18,548.25v-5M631.18,338.25v5M674.00,548.25v-5M674.00,338.25v5M395.66,548.25v-2.6M395.66,338.25v2.6M438.48,548.25v-2.6M438.48,338.25v2.6M481.30,548.25v-2.6M481.30,338.25v2.6M524.12,548.25v-2.6M524.12,338.25v2.6M566.95,548.25v-2.6M566.95,338.25v2.6M609.77,548.25v-2.6M609.77,338.25v2.6M652.59,548.25v-2.6M652.59,338.25v2.6M374.25,548.25h5M674.00,548.25h-5M374.25,506.25h5M674.00,506.25h-5M374.25,464.25h5M674.00,464.25h-5M374.25,422.25h5M674.00,422.25h-5M374.25,380.25h5M674.00,380.25h-5M374.25,338.25h5M674.00,338.25h-5M374.25,527.25h2.6M674.00,527.25h-2.6M374.25,485.25h2.6M674.00,485.25h-2.6M374.25,443.25h2.6M674.00,443.25h-2.6M374.25,401.25h2.6M674.00,401.25h-2.6M374.25,359.25h2.6M674.00,359.25h-2.6" stroke="#9a9a9a" stroke-width="1.1" fill="none"/>
<text x="374.25" y="557.25" text-anchor="middle" class="tk">0.25</text>
<text x="417.07" y="557.25" text-anchor="middle" class="tk">0.5</text>
<text x="459.89" y="557.25" text-anchor="middle" class="tk">0.75</text>
<text x="502.71" y="557.25" text-anchor="middle" class="tk">1</text>
<text x="545.54" y="557.25" text-anchor="middle" class="tk">1.25</text>
<text x="588.36" y="557.25" text-anchor="middle" class="tk">1.5</text>
<text x="631.18" y="557.25" text-anchor="middle" class="tk">1.75</text>
<text x="674.00" y="557.25" text-anchor="middle" class="tk">2</text>
<text x="371.05" y="551.05" text-anchor="end" class="tk">0</text>
<text x="371.05" y="509.05" text-anchor="end" class="tk">0.5</text>
<text x="371.05" y="467.05" text-anchor="end" class="tk">1</text>
<text x="371.05" y="425.05" text-anchor="end" class="tk">1.5</text>
<text x="371.05" y="383.05" text-anchor="end" class="tk">2</text>
<text x="371.05" y="341.05" text-anchor="end" class="tk">2.5</text>
<text x="172.10" y="266.70" text-anchor="middle" class="al">Incident Electron Energy (Ryd)</text>
<text transform="translate(9.40,141.55) rotate(-90)" text-anchor="middle" class="al">Collision Strength</text>
<text x="524.12" y="266.80" text-anchor="middle" class="al">Incident Electron Energy (Ryd)</text>
<text transform="translate(361.50,141.60) rotate(-90)" text-anchor="middle" class="al">Collision Strength</text>
<text x="172.00" y="568.65" text-anchor="middle" class="al">Incident Electron Energy (Ryd)</text>
<text transform="translate(9.00,443.25) rotate(-90)" text-anchor="middle" class="al">Collision Strength</text>
<text x="524.12" y="568.65" text-anchor="middle" class="al">Incident Electron Energy (Ryd)</text>
<text transform="translate(354.80,443.25) rotate(-90)" text-anchor="middle" class="al">Collision Strength</text>
<rect x="231.50" y="51.10" width="69.30" height="24.40" fill="#fff" stroke="#777" stroke-width="1"/>
<path d="M234.80,58.20h12.2" stroke="#555" stroke-width="0.9"/>
<path d="M234.80,68.10h12.2" stroke="#ea6a5a" stroke-width="0.9"/>
<text x="253.70" y="61.90" class="lg">DARC400</text>
<text x="253.70" y="71.80" class="lg">DARC450</text>
<rect x="583.70" y="51.10" width="68.90" height="24.40" fill="#fff" stroke="#777" stroke-width="1"/>
<path d="M587.00,58.20h12.2" stroke="#555" stroke-width="0.9"/>
<path d="M587.00,68.10h12.2" stroke="#ea6a5a" stroke-width="0.9"/>
<text x="605.90" y="61.90" class="lg">DARC400</text>
<text x="605.90" y="71.80" class="lg">DARC450</text>
<rect x="156.50" y="353.30" width="69.30" height="23.20" fill="#fff" stroke="#777" stroke-width="1"/>
<path d="M159.80,359.70h12.2" stroke="#555" stroke-width="0.9"/>
<path d="M159.80,370.30h12.2" stroke="#ea6a5a" stroke-width="0.9"/>
<text x="178.70" y="363.40" class="lg">DARC400</text>
<text x="178.70" y="373.30" class="lg">DARC450</text>
<rect x="509.00" y="353.30" width="68.50" height="23.20" fill="#fff" stroke="#777" stroke-width="1"/>
<path d="M512.30,359.70h12.2" stroke="#555" stroke-width="0.9"/>
<path d="M512.30,370.30h12.2" stroke="#ea6a5a" stroke-width="0.9"/>
<text x="530.20" y="363.40" class="lg">DARC400</text>
<text x="530.20" y="373.30" class="lg">DARC450</text>

</svg>
</body></html>
